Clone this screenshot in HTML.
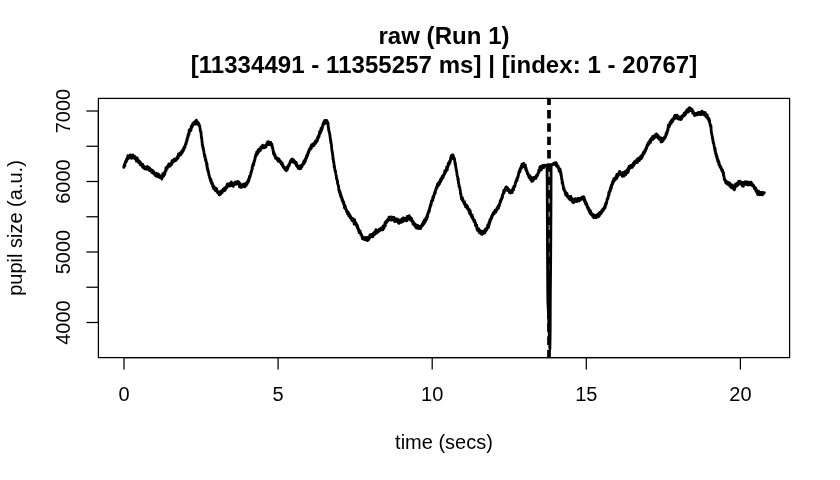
<!DOCTYPE html>
<html><head><meta charset="utf-8"><style>
html,body{margin:0;padding:0;background:#fff;}
svg{display:block;will-change:transform;}
.ax{font-family:"Liberation Sans",Arial,Helvetica,sans-serif;font-size:20px;fill:#000;}
.tt{font-family:"Liberation Sans",Arial,Helvetica,sans-serif;font-size:24px;font-weight:bold;fill:#000;letter-spacing:0.05px;}
</style></head><body>
<svg width="840" height="480" viewBox="0 0 840 480">
<defs><clipPath id="c"><rect x="98.4" y="98.4" width="691.2" height="259.20000000000005"/></clipPath></defs>
<rect width="840" height="480" fill="#fff"/>
<polyline points="123.80,167.43 123.92,166.01 124.04,166.42 124.16,165.88 124.28,165.58 124.40,165.28 124.52,164.24 124.64,164.58 124.76,163.92 124.87,165.96 124.99,163.90 125.10,163.23 125.21,162.97 125.32,162.34 125.42,161.74 125.52,161.97 125.62,162.36 125.72,161.48 125.83,162.13 125.93,160.91 126.05,160.81 126.17,161.76 126.30,160.72 126.40,159.71 126.51,159.79 126.61,160.20 126.72,161.15 126.83,159.22 126.94,159.08 127.06,159.91 127.18,158.22 127.31,158.51 127.45,159.25 127.60,158.80 127.70,158.28 127.80,158.60 127.90,155.66 128.01,158.61 128.12,156.89 128.24,156.19 128.36,157.63 128.48,157.86 128.60,156.85 128.72,156.26 128.84,157.07 128.96,156.95 129.09,158.06 129.21,157.49 129.34,157.01 129.46,157.71 129.58,156.63 129.70,156.03 129.81,157.23 129.92,157.23 130.04,156.60 130.15,156.17 130.26,157.02 130.38,154.89 130.49,157.49 130.61,157.40 130.72,155.76 130.83,157.19 130.95,156.43 131.06,157.86 131.18,155.67 131.29,156.59 131.41,157.89 131.52,158.22 131.64,155.53 131.75,156.80 131.86,157.37 131.98,156.53 132.09,158.17 132.21,155.83 132.32,156.94 132.44,155.70 132.55,157.55 132.67,156.31 132.78,155.95 132.90,154.81 133.01,157.50 133.13,156.76 133.24,156.79 133.36,157.14 133.47,156.59 133.58,155.90 133.69,155.88 133.80,156.01 133.92,157.89 134.04,155.78 134.16,156.63 134.28,157.00 134.40,157.57 134.52,157.98 134.63,156.64 134.75,156.36 134.87,157.85 134.98,158.92 135.10,158.65 135.21,158.30 135.33,157.97 135.44,158.56 135.55,158.22 135.67,159.17 135.78,157.98 135.90,158.83 136.02,158.73 136.14,159.36 136.26,159.20 136.38,161.15 136.50,160.39 136.62,160.47 136.73,157.71 136.85,159.13 136.97,158.98 137.09,159.96 137.21,157.78 137.33,160.62 137.44,160.62 137.56,158.83 137.67,159.20 137.78,159.47 137.89,160.28 138.00,160.90 138.12,162.19 138.24,160.55 138.36,161.48 138.48,161.14 138.60,162.56 138.71,161.88 138.83,162.49 138.94,160.64 139.05,161.45 139.16,161.04 139.27,162.99 139.38,162.40 139.49,161.72 139.59,161.70 139.70,162.56 139.82,161.75 139.94,161.72 140.06,163.01 140.17,164.78 140.28,162.80 140.39,162.74 140.50,162.45 140.61,162.51 140.72,164.19 140.83,164.64 140.94,164.15 141.06,164.58 141.18,164.57 141.30,164.74 141.41,163.53 141.51,164.50 141.62,165.07 141.73,164.48 141.84,164.84 141.95,164.68 142.06,165.18 142.18,166.25 142.29,165.35 142.41,165.66 142.53,166.54 142.64,166.50 142.76,167.44 142.88,164.49 143.00,166.93 143.11,165.93 143.22,166.48 143.33,167.11 143.44,167.36 143.55,167.39 143.66,166.75 143.77,167.97 143.88,166.53 144.00,166.71 144.11,167.53 144.23,166.52 144.34,168.76 144.46,167.92 144.58,168.91 144.70,167.21 144.81,166.99 144.92,167.49 145.03,168.00 145.14,167.00 145.25,167.84 145.37,167.59 145.48,168.97 145.60,167.22 145.71,168.66 145.83,167.37 145.94,167.18 146.06,167.43 146.17,167.08 146.29,168.17 146.41,168.89 146.52,168.19 146.64,168.55 146.75,169.34 146.86,168.23 146.98,168.15 147.09,167.75 147.21,166.67 147.32,168.57 147.44,166.57 147.55,168.52 147.67,168.03 147.78,169.00 147.90,168.11 148.01,167.58 148.13,168.62 148.24,167.98 148.35,168.38 148.47,168.66 148.58,168.62 148.69,168.67 148.80,168.26 148.92,168.88 149.04,167.43 149.16,169.12 149.28,168.40 149.40,170.36 149.51,170.59 149.63,168.12 149.75,169.91 149.86,169.79 149.98,169.16 150.10,170.52 150.21,169.81 150.33,168.85 150.44,170.13 150.56,170.30 150.67,170.57 150.79,169.56 150.90,171.08 151.02,171.22 151.13,169.75 151.24,170.17 151.36,170.66 151.47,170.29 151.58,172.16 151.70,170.96 151.81,170.00 151.92,170.21 152.04,170.82 152.15,172.74 152.27,170.80 152.38,171.10 152.50,171.48 152.61,171.12 152.73,173.06 152.85,170.92 152.96,172.06 153.08,171.72 153.20,172.23 153.31,170.95 153.43,173.47 153.55,172.14 153.67,172.44 153.79,171.85 153.91,172.21 154.03,173.43 154.15,173.94 154.27,173.93 154.39,174.45 154.51,174.20 154.63,173.78 154.76,174.54 154.88,174.45 155.00,173.98 155.12,174.72 155.23,175.24 155.35,174.46 155.47,174.05 155.58,174.97 155.70,175.97 155.82,174.33 155.94,174.47 156.06,174.48 156.18,175.61 156.29,173.20 156.41,175.00 156.53,175.70 156.65,174.14 156.77,176.03 156.89,175.32 157.01,174.52 157.14,175.19 157.26,173.86 157.38,174.71 157.50,176.69 157.61,174.57 157.73,176.82 157.84,175.34 157.96,176.26 158.07,175.55 158.19,173.78 158.31,175.16 158.42,175.82 158.54,174.79 158.66,174.69 158.78,176.11 158.89,175.35 159.01,174.58 159.13,175.46 159.25,176.77 159.36,175.79 159.48,177.01 159.60,177.57 159.72,176.48 159.83,175.65 159.95,175.61 160.07,176.73 160.18,177.54 160.30,177.13 160.42,177.42 160.54,176.68 160.67,177.31 160.79,176.72 160.91,176.86 161.04,176.08 161.16,175.85 161.29,176.70 161.41,176.17 161.54,176.24 161.66,177.50 161.78,176.81 161.90,179.16 162.02,177.49 162.14,176.16 162.26,177.19 162.37,176.75 162.48,175.80 162.59,177.12 162.70,175.49 162.80,173.54 162.94,176.45 163.08,175.13 163.22,176.62 163.35,174.72 163.47,174.10 163.60,176.10 163.72,173.82 163.83,174.66 163.95,175.47 164.06,174.22 164.17,173.87 164.28,173.82 164.38,174.21 164.49,172.68 164.59,173.60 164.70,173.36 164.80,174.54 164.92,172.13 165.04,171.38 165.15,172.41 165.26,171.22 165.36,171.48 165.46,171.08 165.56,171.64 165.67,169.91 165.77,170.10 165.88,167.87 166.00,168.95 166.12,170.65 166.25,168.62 166.35,168.42 166.45,167.82 166.55,169.06 166.66,168.54 166.76,167.24 166.87,168.51 166.98,167.96 167.09,168.13 167.21,166.78 167.32,168.46 167.44,167.18 167.56,166.55 167.68,166.03 167.80,166.07 167.92,166.79 168.05,165.75 168.17,166.71 168.30,166.21 168.41,166.75 168.52,166.27 168.63,165.53 168.75,164.02 168.86,165.76 168.98,166.13 169.10,165.60 169.22,165.89 169.34,165.04 169.46,165.07 169.58,164.56 169.70,166.33 169.83,165.28 169.95,164.64 170.07,163.85 170.19,164.65 170.32,165.78 170.44,164.85 170.56,163.74 170.68,165.31 170.80,165.16 170.92,164.65 171.04,164.35 171.16,164.49 171.27,163.85 171.39,163.88 171.51,162.47 171.62,164.12 171.74,162.94 171.86,164.19 171.98,160.76 172.09,162.78 172.21,162.82 172.33,161.60 172.45,162.07 172.57,162.16 172.69,161.88 172.81,160.85 172.93,161.05 173.05,161.87 173.18,161.97 173.30,160.93 173.42,160.83 173.53,160.85 173.65,161.45 173.77,159.72 173.89,159.45 174.01,160.57 174.13,159.55 174.25,159.94 174.38,160.47 174.50,160.78 174.62,159.54 174.74,161.04 174.86,158.99 174.99,160.85 175.11,159.14 175.22,159.37 175.34,160.87 175.46,159.98 175.57,159.60 175.69,159.79 175.80,160.41 175.93,159.84 176.05,159.68 176.18,160.35 176.30,158.73 176.42,158.71 176.54,158.44 176.65,159.57 176.77,159.21 176.88,159.23 177.00,157.96 177.11,157.65 177.22,158.26 177.34,157.06 177.45,157.85 177.56,157.58 177.68,156.27 177.79,156.59 177.91,156.39 178.02,157.72 178.14,158.25 178.26,155.96 178.38,155.91 178.50,153.94 178.62,155.82 178.73,155.53 178.85,154.56 178.97,155.92 179.10,153.91 179.22,154.85 179.34,154.99 179.47,153.73 179.59,155.26 179.71,155.27 179.84,153.17 179.96,153.01 180.08,154.48 180.21,153.85 180.33,152.79 180.44,153.41 180.56,153.46 180.67,153.32 180.79,154.00 180.89,153.54 181.00,154.53 181.13,154.07 181.25,153.37 181.37,153.53 181.49,153.56 181.60,152.89 181.72,151.15 181.83,152.63 181.93,151.80 182.04,152.83 182.15,151.40 182.26,151.53 182.37,151.16 182.48,152.02 182.59,150.61 182.70,150.05 182.82,150.31 182.93,149.52 183.05,149.82 183.17,149.51 183.29,149.57 183.41,150.73 183.53,148.71 183.65,148.89 183.77,148.53 183.89,149.05 184.00,147.37 184.12,147.56 184.24,147.87 184.35,148.11 184.47,147.41 184.58,146.80 184.69,146.27 184.79,147.13 184.90,147.63 185.00,146.48 185.14,146.03 185.27,145.87 185.40,144.40 185.53,144.54 185.65,144.20 185.77,144.27 185.88,143.62 185.99,142.28 186.11,143.76 186.22,143.82 186.33,141.85 186.44,141.98 186.55,141.47 186.67,141.49 186.78,139.28 186.90,141.35 187.01,139.31 187.13,140.32 187.24,139.00 187.35,138.24 187.46,138.06 187.57,138.50 187.68,136.71 187.79,136.70 187.91,136.22 188.02,134.83 188.14,136.84 188.25,135.86 188.37,134.97 188.50,135.51 188.62,133.41 188.75,133.71 188.86,134.81 188.97,133.89 189.08,130.99 189.19,129.78 189.30,131.30 189.41,132.67 189.53,131.14 189.64,131.05 189.76,131.43 189.88,129.97 190.00,130.58 190.12,130.79 190.24,130.28 190.36,129.97 190.49,128.92 190.61,129.57 190.74,128.56 190.87,129.68 190.99,130.43 191.12,127.51 191.25,126.09 191.36,127.25 191.47,127.64 191.58,127.93 191.69,127.70 191.80,125.96 191.91,125.69 192.03,127.08 192.14,124.93 192.25,126.42 192.36,125.10 192.48,125.64 192.60,125.33 192.72,125.14 192.84,124.94 192.96,123.27 193.08,124.10 193.21,123.70 193.34,123.79 193.47,124.41 193.61,123.12 193.75,122.71 193.86,122.66 193.97,122.97 194.08,123.79 194.20,122.51 194.32,124.05 194.44,123.31 194.56,122.84 194.69,121.90 194.81,123.08 194.94,123.36 195.07,121.31 195.19,123.58 195.32,123.86 195.45,122.73 195.57,122.77 195.70,124.23 195.82,123.21 195.94,121.45 196.06,122.09 196.17,121.93 196.28,121.90 196.39,120.09 196.50,122.57 196.60,121.45 196.73,122.10 196.86,121.89 196.99,122.75 197.11,121.90 197.23,121.60 197.35,122.77 197.46,123.59 197.57,122.35 197.68,123.84 197.79,123.10 197.89,122.61 197.99,124.40 198.10,122.67 198.20,124.29 198.30,123.22 198.43,124.18 198.56,123.05 198.69,123.61 198.82,125.39 198.94,124.96 199.06,125.14 199.17,125.06 199.28,126.09 199.39,124.94 199.50,125.50 199.61,126.61 199.71,126.41 199.81,126.86 199.91,127.71 200.00,128.00 200.15,128.52 200.28,130.63 200.41,130.72 200.52,131.53 200.63,131.18 200.74,131.47 200.84,131.39 200.94,132.97 201.04,132.28 201.14,134.19 201.25,135.98 201.37,137.47 201.48,137.76 201.60,137.12 201.71,139.02 201.82,138.82 201.92,140.92 202.03,140.99 202.15,142.56 202.26,144.73 202.38,144.18 202.50,146.07 202.61,144.99 202.71,145.21 202.82,147.17 202.92,148.11 203.03,146.91 203.14,148.05 203.26,147.47 203.37,149.10 203.49,150.62 203.61,150.50 203.74,150.79 203.87,150.80 204.00,152.92 204.10,153.79 204.21,154.17 204.32,154.44 204.44,153.77 204.55,156.75 204.67,155.85 204.79,156.32 204.92,157.57 205.04,155.78 205.16,157.97 205.29,158.41 205.41,159.30 205.54,160.55 205.66,160.32 205.78,158.94 205.90,160.59 206.02,161.50 206.14,161.93 206.25,161.27 206.37,161.51 206.49,163.83 206.60,164.22 206.71,164.50 206.83,163.70 206.93,167.06 207.04,163.89 207.15,166.47 207.26,168.99 207.37,167.74 207.48,168.59 207.60,168.00 207.72,170.57 207.84,168.98 207.97,170.76 208.10,171.21 208.20,170.69 208.31,172.69 208.42,171.29 208.52,172.34 208.63,173.33 208.74,173.50 208.85,174.68 208.96,175.52 209.08,175.02 209.19,175.29 209.31,175.76 209.43,176.33 209.55,177.69 209.67,177.28 209.80,178.17 209.93,178.15 210.06,177.91 210.19,179.62 210.32,178.44 210.46,179.62 210.60,181.14 210.70,179.33 210.81,180.41 210.92,179.45 211.02,180.59 211.13,180.08 211.25,181.28 211.36,181.43 211.48,182.27 211.59,183.74 211.71,183.00 211.83,183.61 211.95,183.35 212.07,183.49 212.19,183.32 212.31,182.83 212.43,184.61 212.55,186.14 212.67,185.49 212.79,184.94 212.92,186.95 213.04,185.53 213.16,185.63 213.28,185.39 213.40,185.83 213.52,186.63 213.63,188.65 213.75,187.10 213.87,186.66 213.99,187.22 214.11,187.73 214.22,186.74 214.34,188.40 214.46,189.04 214.58,188.92 214.70,189.31 214.81,187.96 214.93,187.80 215.05,190.34 215.17,190.34 215.29,188.38 215.40,189.92 215.52,189.92 215.64,190.47 215.76,190.32 215.88,189.88 216.00,190.55 216.11,190.61 216.22,190.54 216.33,189.18 216.44,188.35 216.56,190.19 216.67,189.59 216.78,191.18 216.89,191.63 217.00,191.35 217.11,190.93 217.23,191.38 217.34,192.35 217.45,190.95 217.57,192.38 217.68,192.33 217.80,192.09 217.91,193.17 218.02,191.56 218.14,193.02 218.25,191.65 218.36,191.91 218.48,191.80 218.59,193.12 218.71,192.12 218.82,193.02 218.94,192.15 219.05,193.99 219.17,194.66 219.28,193.41 219.40,194.57 219.51,193.70 219.63,194.98 219.74,193.30 219.85,191.93 219.97,194.34 220.08,193.00 220.20,192.23 220.31,192.48 220.43,191.66 220.54,192.78 220.66,192.02 220.77,194.02 220.89,193.32 221.00,191.41 221.12,191.47 221.24,192.16 221.36,190.98 221.48,192.34 221.59,192.27 221.71,191.55 221.83,191.58 221.95,192.26 222.07,192.83 222.19,192.71 222.30,191.36 222.42,191.84 222.54,190.39 222.65,191.15 222.77,189.90 222.88,191.11 223.00,189.42 223.12,189.52 223.24,190.19 223.36,190.55 223.47,188.87 223.59,189.52 223.70,189.99 223.82,190.01 223.93,189.11 224.04,189.81 224.16,189.48 224.28,190.79 224.39,190.08 224.51,188.55 224.63,187.82 224.75,189.62 224.87,190.45 225.00,189.59 225.11,190.09 225.22,188.91 225.33,188.10 225.45,189.67 225.56,188.99 225.67,189.28 225.79,187.43 225.90,188.46 226.02,187.57 226.14,188.46 226.25,187.09 226.37,186.79 226.49,186.54 226.61,187.75 226.74,186.50 226.86,185.62 226.99,185.19 227.11,184.96 227.24,186.79 227.37,184.01 227.50,184.66 227.61,185.77 227.72,186.14 227.83,185.03 227.94,185.74 228.06,185.69 228.17,185.86 228.29,185.09 228.41,186.37 228.52,185.21 228.64,186.25 228.76,184.12 228.88,185.72 229.00,183.92 229.12,183.67 229.24,185.20 229.37,184.07 229.49,185.01 229.61,183.71 229.73,185.78 229.86,184.42 229.98,183.44 230.10,184.43 230.23,184.94 230.35,183.59 230.48,184.59 230.60,185.80 230.71,184.86 230.83,184.16 230.94,183.73 231.06,184.66 231.17,183.01 231.29,181.81 231.40,183.73 231.52,183.42 231.64,185.70 231.75,184.43 231.87,183.55 231.99,183.42 232.10,184.76 232.22,183.70 232.34,183.91 232.46,184.30 232.58,184.44 232.69,184.45 232.81,184.46 232.93,185.41 233.05,185.72 233.17,183.03 233.28,186.41 233.40,184.44 233.52,185.31 233.63,183.70 233.75,184.52 233.87,184.38 233.99,184.24 234.11,184.75 234.23,184.48 234.36,183.07 234.48,183.66 234.61,184.22 234.73,184.06 234.86,183.13 234.99,183.07 235.11,183.07 235.24,182.24 235.36,182.03 235.48,184.26 235.61,182.65 235.73,183.01 235.85,182.32 235.96,183.94 236.08,184.28 236.19,182.69 236.30,183.26 236.41,182.22 236.52,184.22 236.62,183.52 236.72,182.08 236.81,183.72 236.90,182.98 237.04,182.96 237.18,182.84 237.30,181.93 237.42,181.95 237.53,182.80 237.64,182.19 237.75,181.42 237.86,183.77 237.98,181.98 238.10,181.72 238.21,181.67 238.32,182.88 238.43,183.23 238.54,182.80 238.65,183.48 238.76,181.79 238.87,182.92 238.98,183.07 239.10,183.70 239.21,184.34 239.33,182.58 239.44,186.97 239.56,184.03 239.68,185.26 239.81,185.89 239.93,186.14 240.06,185.87 240.19,183.55 240.32,185.18 240.46,186.81 240.60,185.58 240.71,185.54 240.82,184.56 240.93,187.47 241.04,186.93 241.16,185.83 241.27,186.44 241.39,186.45 241.51,185.60 241.63,186.23 241.75,186.58 241.88,186.74 242.00,187.22 242.12,186.13 242.24,185.62 242.37,186.21 242.49,185.28 242.61,184.69 242.74,186.52 242.86,185.23 242.98,185.58 243.10,185.98 243.22,184.56 243.33,185.96 243.45,185.82 243.57,185.42 243.69,185.85 243.81,184.98 243.93,183.88 244.05,185.47 244.17,185.02 244.29,186.49 244.41,186.05 244.53,185.43 244.65,185.90 244.77,186.94 244.89,186.74 245.00,186.08 245.12,186.06 245.24,185.42 245.35,185.44 245.46,185.90 245.57,185.22 245.68,185.42 245.79,184.15 245.90,183.56 246.00,183.39 246.14,184.19 246.28,185.39 246.41,185.06 246.55,183.10 246.68,182.45 246.81,184.12 246.94,183.66 247.07,182.00 247.19,183.76 247.31,182.87 247.43,183.61 247.55,182.64 247.67,182.89 247.78,182.25 247.89,181.04 248.00,181.42 248.11,180.87 248.21,181.87 248.32,180.21 248.41,179.58 248.51,181.15 248.61,181.32 248.70,181.35 248.85,180.72 249.00,178.27 249.13,178.56 249.25,178.30 249.36,178.35 249.47,176.26 249.58,177.60 249.68,177.45 249.78,176.09 249.88,176.56 249.98,177.05 250.09,175.76 250.20,176.21 250.32,175.81 250.43,174.97 250.55,174.59 250.66,173.61 250.78,174.53 250.89,172.78 251.01,172.21 251.12,172.92 251.24,171.36 251.35,171.85 251.47,171.92 251.58,170.69 251.70,170.26 251.82,170.46 251.93,169.87 252.05,167.59 252.16,167.34 252.28,169.03 252.39,167.86 252.51,165.48 252.62,165.67 252.74,166.38 252.85,165.20 252.97,165.98 253.08,165.30 253.20,165.25 253.32,163.55 253.43,164.60 253.55,165.28 253.66,162.68 253.78,163.97 253.89,163.29 254.01,162.61 254.12,161.63 254.24,160.34 254.35,160.15 254.47,161.05 254.58,160.82 254.70,160.61 254.81,159.99 254.92,159.55 255.03,158.08 255.13,157.07 255.24,157.81 255.34,157.66 255.45,156.95 255.56,155.29 255.68,155.72 255.80,154.60 255.92,155.55 256.06,154.26 256.20,154.66 256.30,154.86 256.39,154.52 256.49,155.32 256.60,153.15 256.70,152.10 256.81,154.42 256.92,154.59 257.03,154.42 257.14,153.30 257.26,153.30 257.37,152.75 257.49,151.41 257.61,151.77 257.73,152.42 257.86,151.36 257.98,153.14 258.11,150.19 258.24,150.89 258.37,151.95 258.50,150.40 258.61,149.85 258.72,149.53 258.84,149.91 258.96,151.57 259.08,150.55 259.20,150.51 259.32,149.55 259.45,150.51 259.57,149.78 259.70,148.82 259.83,149.06 259.95,149.44 260.08,150.08 260.20,148.96 260.32,149.27 260.44,150.36 260.56,147.97 260.67,147.49 260.79,149.15 260.90,148.60 261.00,148.06 261.13,148.20 261.25,147.57 261.36,148.09 261.47,147.25 261.57,148.01 261.67,146.28 261.78,146.41 261.88,147.03 261.99,146.43 262.11,147.26 262.23,146.57 262.36,146.10 262.50,146.65 262.60,146.03 262.70,145.20 262.81,145.53 262.93,145.80 263.05,146.08 263.17,146.54 263.29,147.21 263.42,146.94 263.54,147.94 263.67,147.57 263.80,146.43 263.93,147.94 264.06,147.61 264.19,146.35 264.31,147.02 264.43,147.69 264.56,147.05 264.67,147.70 264.79,147.22 264.90,147.47 265.00,146.64 265.14,147.15 265.27,146.47 265.40,147.19 265.52,145.17 265.63,146.64 265.74,147.20 265.85,146.49 265.96,145.82 266.06,146.08 266.17,144.78 266.28,144.59 266.39,144.78 266.51,144.76 266.63,145.47 266.76,143.81 266.90,145.16 267.00,142.98 267.11,143.48 267.22,143.95 267.34,144.77 267.45,143.22 267.57,141.87 267.69,143.79 267.81,143.32 267.94,142.37 268.06,142.30 268.19,142.48 268.31,143.03 268.44,143.40 268.56,141.62 268.68,144.56 268.81,142.63 268.93,142.31 269.05,143.11 269.17,142.63 269.29,144.40 269.40,143.42 269.53,142.29 269.65,142.34 269.78,142.34 269.91,142.58 270.04,143.53 270.17,142.62 270.29,144.58 270.42,143.39 270.55,143.50 270.67,144.54 270.79,142.36 270.91,143.35 271.03,144.73 271.15,144.42 271.27,144.55 271.38,145.04 271.49,144.41 271.60,144.92 271.70,144.14 271.80,143.91 271.90,146.60 272.07,145.21 272.22,145.78 272.36,147.90 272.48,148.09 272.59,147.29 272.69,147.77 272.79,148.63 272.89,148.44 272.98,150.15 273.07,150.34 273.16,150.83 273.26,151.83 273.37,152.29 273.48,153.66 273.61,153.85 273.75,151.69 273.85,154.04 273.95,152.69 274.05,152.70 274.16,154.66 274.27,153.77 274.37,154.31 274.48,155.64 274.59,154.48 274.71,154.51 274.82,155.70 274.94,156.63 275.06,156.29 275.18,154.83 275.30,155.77 275.43,156.39 275.56,158.28 275.69,157.67 275.83,157.87 275.97,158.38 276.11,157.40 276.25,158.26 276.35,158.41 276.46,157.38 276.57,158.27 276.68,158.85 276.79,157.63 276.90,159.23 277.02,159.26 277.14,159.54 277.26,158.14 277.38,158.89 277.50,160.01 277.63,159.52 277.75,158.29 277.87,159.15 278.00,160.16 278.12,159.03 278.25,159.48 278.37,161.33 278.49,159.36 278.61,159.43 278.73,158.85 278.85,159.28 278.96,161.15 279.08,160.01 279.19,159.34 279.29,159.70 279.40,160.60 279.53,161.40 279.67,160.37 279.79,161.70 279.92,160.89 280.04,161.72 280.16,162.00 280.28,162.21 280.40,161.53 280.52,161.90 280.63,162.60 280.75,161.32 280.86,162.67 280.98,163.11 281.09,163.72 281.20,163.04 281.32,163.10 281.43,163.55 281.55,163.03 281.66,163.63 281.78,164.30 281.90,164.38 282.02,163.49 282.13,164.25 282.25,163.00 282.36,165.53 282.47,164.66 282.59,165.49 282.70,164.63 282.81,165.66 282.92,166.30 283.04,166.95 283.15,165.30 283.26,167.28 283.38,166.68 283.50,166.40 283.62,167.59 283.74,167.14 283.87,167.30 284.00,167.12 284.13,167.99 284.26,167.95 284.40,167.88 284.51,167.32 284.62,167.73 284.74,168.53 284.86,169.29 284.98,168.30 285.10,169.50 285.22,168.41 285.35,167.59 285.48,169.01 285.60,167.78 285.73,168.92 285.86,169.50 285.98,168.44 286.11,168.66 286.23,170.75 286.35,169.02 286.47,169.07 286.58,169.52 286.69,168.84 286.80,168.86 286.90,169.23 287.05,166.98 287.20,169.95 287.33,167.86 287.46,167.71 287.58,168.83 287.69,168.22 287.80,166.97 287.91,167.90 288.02,166.55 288.12,166.63 288.22,165.70 288.32,165.95 288.43,166.63 288.53,166.11 288.64,165.97 288.76,166.17 288.88,165.12 289.00,164.37 289.11,164.45 289.22,165.75 289.33,164.22 289.44,164.19 289.55,163.60 289.66,163.61 289.78,163.49 289.89,162.88 290.01,162.50 290.13,161.75 290.24,161.45 290.36,162.22 290.48,162.27 290.60,162.21 290.72,161.33 290.85,160.47 290.97,161.48 291.09,161.35 291.22,159.56 291.34,161.32 291.47,161.09 291.60,161.92 291.71,159.68 291.83,159.55 291.94,161.21 292.06,159.16 292.18,160.02 292.29,159.76 292.41,159.84 292.53,159.15 292.65,160.51 292.77,161.51 292.89,161.12 293.01,161.17 293.13,160.58 293.26,162.08 293.38,161.41 293.50,161.91 293.63,159.92 293.75,161.52 293.88,160.43 294.00,161.71 294.11,161.67 294.22,160.71 294.34,161.85 294.45,162.73 294.56,162.31 294.68,162.50 294.79,161.45 294.90,161.72 295.02,161.49 295.13,162.61 295.25,163.59 295.37,163.13 295.48,162.92 295.60,162.18 295.71,163.58 295.83,163.20 295.95,162.04 296.07,162.36 296.19,163.64 296.30,163.38 296.42,165.58 296.54,164.47 296.66,163.80 296.78,164.41 296.90,166.24 297.02,164.37 297.13,165.91 297.25,165.81 297.37,166.79 297.49,166.21 297.61,165.63 297.72,166.52 297.84,166.31 297.96,167.19 298.08,166.51 298.21,168.28 298.33,166.76 298.45,167.33 298.57,166.59 298.69,167.34 298.81,167.39 298.93,167.62 299.05,168.31 299.17,167.27 299.29,167.11 299.41,168.74 299.53,167.68 299.65,167.41 299.77,168.87 299.88,168.56 300.00,165.80 300.12,167.54 300.25,168.38 300.37,168.31 300.49,167.11 300.62,168.62 300.74,166.58 300.87,166.86 301.00,166.96 301.12,166.67 301.25,167.13 301.37,167.11 301.49,166.07 301.62,167.04 301.74,165.19 301.86,165.39 301.98,166.75 302.10,165.27 302.22,165.87 302.33,164.50 302.45,164.45 302.56,164.39 302.67,164.44 302.78,163.85 302.89,163.97 303.00,164.32 303.10,164.59 303.25,163.50 303.39,163.71 303.53,163.73 303.66,161.96 303.79,161.39 303.91,163.76 304.03,163.36 304.15,162.20 304.27,162.28 304.38,161.08 304.49,160.56 304.60,161.73 304.71,160.09 304.82,161.79 304.93,160.30 305.04,160.83 305.15,161.89 305.26,161.59 305.37,159.60 305.48,160.40 305.60,158.45 305.72,158.52 305.84,158.99 305.96,159.51 306.08,157.65 306.20,158.25 306.32,157.61 306.43,156.23 306.55,156.83 306.67,157.83 306.78,156.26 306.90,156.43 307.02,156.37 307.13,154.81 307.25,156.06 307.37,155.95 307.49,155.71 307.61,155.17 307.73,153.45 307.85,153.05 307.98,152.61 308.10,152.23 308.21,152.08 308.33,153.27 308.44,153.42 308.55,151.51 308.66,152.45 308.77,150.57 308.88,151.10 309.00,150.34 309.11,149.60 309.22,150.71 309.34,150.50 309.45,149.88 309.57,149.55 309.69,148.94 309.81,149.38 309.94,148.77 310.06,149.20 310.19,147.81 310.33,148.73 310.46,148.73 310.60,149.09 310.70,148.77 310.81,147.93 310.91,147.07 311.02,146.00 311.13,147.29 311.24,148.27 311.36,148.31 311.47,144.80 311.59,146.07 311.70,146.23 311.82,145.53 311.94,146.36 312.06,146.10 312.18,145.52 312.30,145.78 312.42,144.42 312.54,144.80 312.66,144.76 312.78,146.08 312.90,143.96 313.02,144.97 313.15,145.63 313.27,144.82 313.39,145.35 313.51,144.00 313.63,144.66 313.75,144.82 313.87,145.67 313.98,144.24 314.10,144.57 314.22,143.21 314.34,143.06 314.47,144.03 314.59,143.06 314.72,143.57 314.84,142.87 314.97,143.89 315.09,144.02 315.22,141.38 315.34,143.49 315.47,142.31 315.59,142.32 315.71,141.81 315.83,142.43 315.95,140.91 316.07,141.15 316.18,141.03 316.29,141.77 316.40,142.17 316.51,141.89 316.61,141.47 316.71,140.56 316.81,139.48 316.90,141.06 317.07,140.56 317.22,140.42 317.36,140.97 317.48,139.37 317.60,139.03 317.71,137.00 317.81,138.97 317.91,138.14 318.00,137.23 318.10,137.78 318.19,136.28 318.29,136.32 318.39,137.96 318.50,136.63 318.62,136.41 318.75,135.91 318.86,135.55 318.96,134.92 319.07,136.32 319.19,134.17 319.30,134.55 319.42,133.54 319.54,133.18 319.66,131.28 319.78,131.46 319.90,134.01 320.02,133.73 320.15,131.96 320.27,132.05 320.39,132.32 320.52,130.78 320.64,132.72 320.77,130.19 320.89,130.16 321.01,128.22 321.13,131.34 321.25,129.86 321.37,130.78 321.48,128.35 321.60,129.09 321.71,128.53 321.82,128.29 321.94,129.44 322.05,129.24 322.16,128.18 322.27,126.40 322.38,127.09 322.49,127.10 322.61,126.13 322.72,125.80 322.84,125.40 322.96,123.98 323.08,124.61 323.21,125.42 323.34,123.09 323.47,123.73 323.61,124.14 323.75,122.22 323.86,123.09 323.97,121.75 324.08,122.53 324.20,121.80 324.32,122.12 324.44,122.35 324.57,122.41 324.69,122.35 324.82,120.46 324.95,123.51 325.07,121.86 325.20,121.05 325.32,121.26 325.45,121.86 325.57,120.67 325.69,121.01 325.81,120.87 325.93,121.59 326.04,120.50 326.15,121.43 326.25,121.34 326.38,120.95 326.52,122.11 326.65,121.20 326.78,120.32 326.90,121.59 327.03,121.55 327.15,121.53 327.26,121.86 327.37,123.68 327.48,122.12 327.58,122.43 327.67,122.01 327.75,123.41 327.96,122.99 328.06,123.21 328.10,123.79 328.14,126.17 328.25,127.38 328.33,126.07 328.43,127.34 328.54,129.05 328.65,130.01 328.77,128.80 328.89,130.21 329.02,131.89 329.15,131.48 329.29,132.20 329.42,132.77 329.55,132.77 329.67,134.45 329.79,135.24 329.90,134.45 330.03,136.35 330.15,137.87 330.27,137.87 330.39,139.21 330.51,138.78 330.62,141.11 330.74,140.19 330.85,143.14 330.96,142.10 331.07,142.71 331.18,143.41 331.29,144.62 331.40,145.38 331.52,146.10 331.64,147.27 331.75,148.94 331.86,149.98 331.98,149.88 332.09,152.00 332.20,151.09 332.31,151.94 332.43,152.74 332.55,155.02 332.67,154.20 332.80,155.24 332.90,158.13 333.01,159.22 333.11,159.68 333.22,158.17 333.33,160.14 333.44,161.56 333.55,161.74 333.66,161.13 333.78,162.92 333.89,162.59 334.01,163.72 334.13,167.18 334.25,166.75 334.37,165.77 334.50,166.47 334.61,168.64 334.72,168.38 334.83,169.91 334.94,169.50 335.05,170.42 335.17,171.32 335.29,170.84 335.41,170.65 335.53,171.75 335.64,172.66 335.77,173.57 335.89,174.20 336.01,174.71 336.13,175.70 336.25,175.10 336.36,177.46 336.48,178.49 336.60,177.72 336.72,178.13 336.83,179.53 336.94,179.62 337.05,179.81 337.16,180.10 337.26,180.22 337.37,180.45 337.48,182.51 337.59,183.52 337.70,182.32 337.81,183.72 337.93,184.56 338.05,184.66 338.17,185.02 338.29,185.94 338.42,185.30 338.56,187.45 338.70,187.89 338.80,190.26 338.91,189.75 339.01,189.16 339.12,189.86 339.23,191.67 339.34,192.01 339.46,191.30 339.57,191.48 339.69,190.85 339.81,192.16 339.93,192.70 340.05,192.65 340.17,195.02 340.29,192.51 340.41,194.27 340.54,195.06 340.66,195.42 340.79,196.75 340.92,194.60 341.04,195.44 341.17,196.43 341.30,196.78 341.42,196.69 341.55,196.73 341.67,198.54 341.80,197.20 341.91,197.91 342.03,199.85 342.14,200.43 342.26,200.08 342.37,199.03 342.49,199.38 342.60,199.68 342.72,199.83 342.84,200.73 342.95,202.41 343.07,201.91 343.19,201.46 343.30,201.77 343.42,201.79 343.54,204.03 343.66,201.79 343.78,203.97 343.90,202.94 344.03,203.59 344.15,203.59 344.27,205.90 344.40,205.40 344.52,207.99 344.65,205.29 344.77,205.56 344.90,207.22 345.01,207.47 345.13,207.06 345.25,205.93 345.37,208.96 345.49,208.53 345.61,208.67 345.73,208.15 345.85,209.42 345.98,208.75 346.10,209.52 346.23,209.63 346.35,211.08 346.48,209.98 346.60,210.36 346.73,211.79 346.85,211.33 346.97,211.37 347.09,211.41 347.21,212.57 347.33,211.49 347.45,212.57 347.56,213.99 347.68,212.86 347.79,212.08 347.89,211.91 348.00,213.16 348.13,212.27 348.25,212.20 348.37,213.09 348.48,213.04 348.59,214.84 348.69,213.20 348.80,215.85 348.90,214.20 349.00,215.11 349.11,215.77 349.22,215.62 349.33,216.23 349.45,215.07 349.58,214.26 349.71,216.13 349.85,215.16 350.00,216.27 350.10,217.63 350.20,216.86 350.31,216.69 350.41,216.41 350.52,217.23 350.64,217.47 350.75,216.50 350.87,218.15 350.99,217.21 351.11,218.39 351.23,218.01 351.36,219.31 351.48,219.35 351.61,218.81 351.74,218.85 351.86,219.43 351.99,220.31 352.12,220.19 352.24,219.58 352.37,219.83 352.49,220.95 352.62,218.48 352.74,220.33 352.86,219.27 352.98,221.17 353.10,219.78 353.22,220.19 353.34,219.50 353.46,220.48 353.58,221.20 353.71,222.00 353.83,219.77 353.95,220.55 354.08,224.18 354.20,221.96 354.33,221.37 354.45,221.98 354.57,219.63 354.70,223.26 354.82,222.30 354.94,221.24 355.06,223.53 355.18,222.29 355.29,222.17 355.41,223.60 355.52,223.67 355.63,223.14 355.74,223.60 355.85,222.73 355.95,222.78 356.05,224.78 356.15,225.23 356.25,224.64 356.40,224.78 356.54,224.35 356.67,224.76 356.79,224.32 356.91,226.69 357.02,225.06 357.13,226.10 357.24,226.03 357.34,225.18 357.45,228.14 357.55,226.59 357.65,226.58 357.75,227.61 357.85,227.13 357.96,228.20 358.07,227.75 358.18,229.31 358.30,229.25 358.41,228.42 358.52,230.64 358.63,230.26 358.74,229.50 358.86,230.94 358.97,231.24 359.08,232.62 359.20,230.65 359.31,232.23 359.43,231.64 359.54,232.38 359.66,231.82 359.78,232.13 359.90,232.71 360.02,231.49 360.15,230.90 360.27,232.72 360.40,232.52 360.51,233.09 360.62,233.70 360.72,233.19 360.83,234.52 360.94,233.74 361.05,234.09 361.16,234.90 361.27,234.95 361.38,234.67 361.50,235.10 361.61,234.66 361.73,235.05 361.85,235.89 361.96,236.73 362.09,235.99 362.21,237.26 362.33,238.39 362.46,238.79 362.59,237.31 362.73,238.33 362.86,238.15 363.00,238.45 363.11,238.60 363.22,238.44 363.33,238.76 363.44,238.32 363.55,238.02 363.67,238.48 363.78,238.71 363.90,239.32 364.02,238.66 364.14,238.98 364.26,239.54 364.38,237.65 364.50,238.19 364.62,238.84 364.75,238.43 364.87,237.59 364.99,239.20 365.11,238.35 365.24,237.62 365.36,239.95 365.48,237.43 365.60,238.48 365.72,238.00 365.83,238.69 365.95,239.13 366.07,238.12 366.19,238.79 366.31,238.88 366.43,238.29 366.55,240.15 366.68,239.46 366.80,239.18 366.92,238.96 367.04,239.28 367.16,239.69 367.28,239.22 367.40,240.58 367.52,237.51 367.63,237.78 367.75,239.23 367.86,237.88 367.98,239.22 368.09,238.66 368.20,239.56 368.33,239.32 368.46,239.93 368.58,239.51 368.70,239.66 368.82,238.97 368.94,239.29 369.06,238.72 369.17,237.72 369.29,237.07 369.40,236.96 369.52,238.17 369.63,235.72 369.74,237.62 369.86,236.71 369.97,237.73 370.08,237.13 370.20,236.20 370.32,236.64 370.43,234.65 370.55,236.53 370.68,236.54 370.80,234.56 370.91,236.61 371.02,235.72 371.14,235.86 371.25,234.49 371.37,236.03 371.48,235.92 371.59,235.37 371.71,234.51 371.83,235.84 371.94,236.15 372.06,235.40 372.18,235.81 372.30,234.46 372.41,234.97 372.53,235.06 372.65,234.78 372.77,236.83 372.89,234.81 373.02,233.93 373.14,234.94 373.26,233.31 373.38,234.38 373.50,234.61 373.63,233.51 373.75,233.55 373.88,232.97 374.00,233.73 374.11,232.99 374.23,234.82 374.35,233.85 374.46,233.04 374.58,231.97 374.70,234.61 374.82,233.89 374.93,233.09 375.05,232.73 375.17,232.58 375.29,231.93 375.41,233.67 375.53,232.21 375.66,230.77 375.78,231.29 375.90,229.66 376.02,232.18 376.14,232.21 376.26,232.97 376.38,233.20 376.50,230.87 376.62,231.85 376.74,232.29 376.86,232.12 376.98,231.08 377.10,232.13 377.22,231.87 377.34,232.54 377.46,231.39 377.58,231.18 377.70,230.91 377.82,230.94 377.94,230.55 378.07,230.79 378.19,231.36 378.31,231.22 378.43,231.81 378.55,231.52 378.67,231.05 378.79,229.54 378.91,230.84 379.03,231.24 379.15,229.20 379.27,229.30 379.39,229.37 379.51,229.26 379.62,229.81 379.74,229.24 379.86,230.24 379.97,228.90 380.09,229.71 380.20,229.35 380.33,228.90 380.45,230.44 380.58,229.56 380.71,229.91 380.83,229.16 380.96,229.94 381.08,229.82 381.21,229.16 381.33,227.82 381.45,229.85 381.58,229.69 381.70,229.23 381.82,229.21 381.94,229.05 382.06,229.02 382.18,227.98 382.30,228.65 382.41,228.86 382.53,228.02 382.64,227.63 382.75,229.80 382.87,228.70 382.98,227.87 383.09,227.62 383.19,225.80 383.30,226.66 383.44,227.45 383.57,228.50 383.69,225.62 383.82,226.49 383.94,228.34 384.05,227.09 384.17,226.61 384.28,226.95 384.39,225.61 384.50,225.26 384.61,225.68 384.72,225.49 384.83,223.66 384.94,225.44 385.05,222.54 385.16,223.11 385.28,225.86 385.40,222.74 385.52,223.44 385.64,221.88 385.77,222.21 385.90,221.69 386.01,221.79 386.12,222.47 386.23,223.19 386.34,222.33 386.45,222.72 386.57,220.92 386.68,222.35 386.80,221.48 386.91,221.99 387.03,220.43 387.15,220.46 387.27,221.63 387.39,220.92 387.51,220.42 387.63,219.70 387.75,220.08 387.87,220.46 388.00,220.56 388.12,219.44 388.25,219.51 388.37,220.02 388.50,218.68 388.61,220.21 388.73,219.36 388.84,219.16 388.95,217.25 389.07,217.82 389.19,218.20 389.30,218.50 389.42,218.04 389.54,219.17 389.66,218.95 389.78,218.60 389.90,217.16 390.02,219.89 390.14,218.53 390.26,219.20 390.38,218.18 390.50,218.69 390.62,219.23 390.74,218.85 390.86,219.41 390.98,218.48 391.10,220.21 391.21,217.09 391.33,218.15 391.44,219.36 391.56,218.37 391.67,218.21 391.79,217.13 391.90,219.51 392.02,217.03 392.13,218.96 392.25,218.72 392.37,219.29 392.48,219.78 392.60,218.09 392.71,218.04 392.83,218.49 392.94,217.43 393.06,219.52 393.18,218.61 393.29,219.13 393.41,218.17 393.52,219.15 393.64,218.71 393.75,219.22 393.87,218.47 393.98,220.23 394.10,218.95 394.21,217.48 394.33,220.09 394.45,219.38 394.56,218.96 394.68,221.71 394.79,219.69 394.91,218.68 395.03,219.28 395.14,220.08 395.26,219.60 395.37,220.78 395.49,220.64 395.60,219.16 395.72,219.82 395.83,220.32 395.94,219.49 396.06,219.47 396.17,220.58 396.29,220.27 396.40,218.84 396.52,219.60 396.64,219.79 396.76,220.13 396.88,219.76 397.00,221.53 397.11,219.81 397.23,219.85 397.35,221.02 397.47,219.18 397.58,220.28 397.70,221.72 397.82,220.26 397.94,220.73 398.05,222.34 398.17,221.88 398.29,221.58 398.41,221.74 398.52,220.99 398.64,221.76 398.76,221.32 398.88,223.44 399.00,221.82 399.12,221.08 399.23,221.27 399.35,221.32 399.47,220.14 399.59,220.57 399.71,222.43 399.82,220.08 399.94,220.73 400.06,222.01 400.18,222.39 400.30,220.35 400.42,222.33 400.54,220.84 400.65,222.42 400.77,221.46 400.89,220.78 401.01,221.53 401.13,221.33 401.25,220.19 401.36,222.46 401.48,220.39 401.60,221.52 401.72,220.14 401.84,219.00 401.96,219.50 402.07,220.25 402.19,220.81 402.31,221.61 402.43,220.20 402.54,219.84 402.66,219.01 402.78,219.89 402.90,220.10 403.01,218.02 403.13,220.77 403.25,220.58 403.37,221.43 403.48,218.83 403.60,219.54 403.72,219.47 403.84,218.35 403.96,218.70 404.08,218.56 404.20,219.73 404.31,219.64 404.43,220.36 404.54,218.95 404.66,218.15 404.78,219.63 404.90,219.58 405.01,219.83 405.13,220.30 405.25,218.84 405.37,219.96 405.49,218.51 405.61,219.43 405.73,219.84 405.85,219.17 405.96,219.40 406.08,218.07 406.20,218.61 406.31,219.20 406.43,218.06 406.54,218.28 406.66,220.85 406.77,219.04 406.88,218.11 406.99,217.88 407.10,219.75 407.22,216.32 407.35,218.18 407.47,218.85 407.59,217.80 407.71,218.56 407.83,217.19 407.95,217.91 408.07,217.84 408.18,217.70 408.30,217.70 408.41,217.51 408.53,218.29 408.64,217.11 408.76,216.78 408.87,216.98 408.98,216.94 409.09,215.96 409.20,215.66 409.32,216.16 409.44,217.54 409.56,216.87 409.68,217.19 409.80,219.95 409.92,218.70 410.03,217.79 410.15,217.62 410.26,219.41 410.37,217.86 410.49,219.65 410.60,219.30 410.71,220.09 410.82,218.56 410.93,220.00 411.04,217.95 411.14,219.38 411.25,220.50 411.37,220.32 411.49,218.42 411.61,220.58 411.72,220.54 411.83,220.29 411.94,219.93 412.05,220.47 412.16,220.43 412.27,221.86 412.38,221.68 412.49,222.38 412.59,222.30 412.71,220.94 412.82,222.30 412.93,224.12 413.05,221.72 413.17,223.04 413.30,222.38 413.41,222.45 413.51,223.49 413.62,224.21 413.73,224.24 413.84,224.14 413.95,224.68 414.06,222.77 414.17,224.87 414.28,224.69 414.40,224.37 414.51,224.65 414.63,224.12 414.75,225.86 414.87,224.46 414.99,224.00 415.11,225.28 415.23,224.92 415.36,225.42 415.48,226.77 415.61,225.53 415.74,225.82 415.87,227.61 416.00,224.76 416.11,226.25 416.22,226.97 416.33,227.33 416.44,228.01 416.56,225.78 416.68,226.90 416.79,226.43 416.92,226.23 417.04,226.11 417.16,225.61 417.28,227.14 417.41,227.56 417.53,226.19 417.65,227.75 417.78,226.79 417.90,226.52 418.02,225.33 418.15,228.44 418.27,228.24 418.39,227.52 418.51,227.57 418.63,226.93 418.74,228.47 418.86,228.07 418.97,228.61 419.08,228.34 419.19,227.08 419.30,226.95 419.43,228.50 419.57,226.74 419.69,228.24 419.82,228.65 419.95,226.78 420.07,228.24 420.19,227.62 420.31,227.90 420.43,226.84 420.55,227.22 420.67,227.46 420.78,228.46 420.90,227.45 421.02,227.12 421.13,225.53 421.24,226.68 421.36,225.69 421.47,226.00 421.59,226.08 421.70,226.45 421.83,225.93 421.95,225.37 422.07,224.94 422.19,225.85 422.31,223.83 422.43,224.36 422.55,225.25 422.67,223.80 422.79,224.46 422.91,224.35 423.02,225.08 423.14,224.25 423.25,221.87 423.37,223.06 423.49,223.16 423.60,223.45 423.72,222.95 423.83,224.01 423.95,223.23 424.07,221.23 424.18,221.51 424.30,220.19 424.42,223.07 424.54,221.39 424.66,221.18 424.79,219.82 424.91,220.53 425.04,221.02 425.17,220.13 425.29,219.92 425.42,219.53 425.55,221.42 425.67,219.17 425.79,218.23 425.92,218.79 426.04,218.73 426.15,218.75 426.27,218.43 426.38,217.53 426.49,218.08 426.60,218.35 426.71,216.69 426.80,219.21 426.90,218.77 427.05,215.54 427.19,216.33 427.32,217.05 427.44,216.94 427.56,216.91 427.66,213.59 427.77,213.81 427.87,213.93 427.97,214.43 428.07,212.76 428.18,213.64 428.29,213.31 428.40,213.20 428.51,211.25 428.62,212.14 428.74,211.72 428.85,210.99 428.96,212.06 429.07,210.41 429.18,211.47 429.29,209.43 429.41,210.90 429.52,210.45 429.64,208.01 429.76,208.51 429.88,208.03 430.00,206.51 430.11,207.53 430.22,206.96 430.33,205.35 430.45,205.72 430.57,205.94 430.69,204.68 430.81,203.82 430.93,205.34 431.05,202.83 431.17,203.53 431.29,203.80 431.41,203.17 431.53,200.69 431.65,201.58 431.77,201.40 431.88,201.02 431.99,201.39 432.10,201.03 432.22,200.36 432.35,200.15 432.47,200.44 432.58,200.33 432.70,197.48 432.82,200.50 432.93,197.98 433.04,198.77 433.15,196.51 433.27,197.11 433.38,196.20 433.49,197.79 433.60,197.30 433.72,196.23 433.83,195.74 433.95,195.84 434.06,194.42 434.17,194.34 434.28,193.86 434.39,194.79 434.50,193.79 434.62,192.36 434.74,193.30 434.87,193.05 435.00,193.35 435.10,191.46 435.20,191.92 435.31,192.96 435.41,190.67 435.52,190.30 435.63,190.66 435.74,189.50 435.85,189.56 435.97,188.81 436.08,188.24 436.20,189.26 436.32,187.91 436.45,187.07 436.57,187.33 436.70,187.13 436.82,187.18 436.95,187.40 437.09,187.78 437.22,185.07 437.36,185.60 437.50,184.07 437.61,185.54 437.72,185.61 437.83,184.48 437.95,184.10 438.06,183.87 438.18,183.29 438.30,184.85 438.42,185.73 438.54,183.09 438.66,185.18 438.79,183.60 438.91,182.40 439.03,183.82 439.16,183.81 439.28,183.34 439.40,182.63 439.52,184.02 439.64,182.24 439.76,182.80 439.88,182.61 440.00,181.15 440.12,180.15 440.24,180.03 440.36,180.89 440.49,181.28 440.61,179.33 440.72,179.96 440.84,181.58 440.96,178.66 441.08,180.28 441.20,179.97 441.32,180.11 441.44,178.07 441.55,179.32 441.67,177.70 441.79,179.70 441.91,177.69 442.03,178.47 442.14,177.28 442.26,177.81 442.38,176.21 442.50,177.44 442.62,177.45 442.74,176.71 442.86,177.78 442.98,176.53 443.10,176.63 443.22,176.17 443.35,177.06 443.47,174.78 443.59,174.88 443.71,174.70 443.83,175.17 443.95,174.66 444.07,174.91 444.19,174.26 444.31,173.37 444.43,173.52 444.54,173.69 444.66,171.25 444.77,174.02 444.89,172.20 445.00,172.15 445.13,172.39 445.25,171.72 445.38,170.49 445.50,171.23 445.62,172.29 445.74,171.75 445.86,171.63 445.98,169.90 446.09,169.90 446.21,170.65 446.33,170.72 446.44,169.26 446.56,168.16 446.67,167.10 446.79,169.55 446.91,166.88 447.02,168.20 447.14,168.31 447.26,169.97 447.38,167.19 447.50,166.67 447.62,166.87 447.74,166.63 447.85,167.03 447.97,166.20 448.10,164.71 448.22,163.31 448.34,164.98 448.46,163.89 448.58,165.31 448.70,162.79 448.83,163.76 448.95,162.72 449.07,162.34 449.19,164.18 449.31,162.70 449.43,162.16 449.54,162.67 449.66,161.17 449.78,161.27 449.89,160.80 450.00,162.71 450.12,161.05 450.24,160.97 450.36,161.03 450.47,159.59 450.58,159.25 450.69,157.65 450.80,159.02 450.91,158.47 451.02,157.56 451.13,158.55 451.25,155.75 451.36,157.28 451.49,155.52 451.62,155.49 451.76,156.08 451.90,157.23 452.00,155.10 452.12,155.23 452.23,155.06 452.35,157.76 452.47,156.58 452.60,156.57 452.72,158.06 452.85,156.69 452.97,154.89 453.10,156.39 453.22,155.99 453.33,158.84 453.45,156.16 453.55,157.76 453.66,157.25 453.75,157.47 453.94,158.19 454.09,158.41 454.23,158.32 454.35,158.24 454.46,159.13 454.55,159.23 454.64,159.79 454.72,161.09 454.81,161.32 454.90,162.29 455.00,162.13 455.12,164.46 455.25,162.83 455.36,163.21 455.48,165.53 455.59,164.75 455.70,166.12 455.81,167.53 455.92,167.34 456.03,167.84 456.14,169.66 456.25,169.84 456.36,169.83 456.47,169.98 456.58,171.36 456.68,170.99 456.79,172.34 456.90,172.85 457.01,174.70 457.12,175.79 457.24,175.31 457.37,176.19 457.50,176.34 457.60,176.64 457.71,177.96 457.82,179.32 457.94,179.77 458.06,180.41 458.18,180.23 458.30,178.73 458.42,182.32 458.55,183.20 458.67,183.41 458.80,183.95 458.92,184.67 459.04,186.54 459.17,185.13 459.28,186.71 459.40,186.65 459.52,187.14 459.63,187.08 459.73,187.53 459.83,187.51 459.93,189.58 460.03,189.48 460.12,189.39 460.22,190.42 460.32,190.72 460.43,193.69 460.54,192.81 460.66,193.76 460.79,193.31 460.93,194.09 461.08,196.45 461.25,196.00 461.34,196.69 461.44,198.35 461.54,198.86 461.64,197.99 461.74,198.11 461.85,198.18 461.95,198.01 462.07,200.19 462.18,197.74 462.29,198.91 462.41,197.62 462.53,198.39 462.65,200.00 462.77,200.27 462.89,200.40 463.02,200.07 463.14,199.99 463.26,200.36 463.39,200.73 463.52,202.20 463.64,202.74 463.77,202.14 463.90,201.57 464.02,201.48 464.15,202.76 464.27,202.58 464.40,201.51 464.51,204.41 464.63,203.51 464.75,203.49 464.86,203.28 464.98,203.53 465.10,205.25 465.22,203.95 465.35,205.03 465.47,205.69 465.59,206.89 465.72,206.03 465.84,205.66 465.96,205.47 466.09,206.68 466.21,206.92 466.33,205.85 466.45,206.80 466.58,206.31 466.70,205.19 466.81,205.82 466.93,207.46 467.05,208.13 467.16,207.64 467.28,207.07 467.39,206.82 467.50,208.04 467.63,208.10 467.76,206.72 467.88,208.85 468.01,207.97 468.13,209.37 468.25,209.50 468.37,209.91 468.48,210.43 468.60,210.36 468.72,209.14 468.83,209.39 468.95,211.32 469.06,211.08 469.18,209.60 469.29,209.46 469.41,212.10 469.52,213.44 469.64,212.51 469.76,211.87 469.88,212.53 470.00,210.29 470.12,211.97 470.23,213.89 470.35,214.01 470.47,211.79 470.59,214.80 470.71,214.53 470.83,215.13 470.95,214.46 471.07,214.90 471.20,214.27 471.32,215.70 471.44,216.43 471.56,215.15 471.68,216.47 471.80,215.94 471.92,217.45 472.04,217.59 472.15,214.99 472.27,217.50 472.39,218.14 472.50,216.99 472.62,217.46 472.75,217.69 472.87,217.05 472.99,218.10 473.11,219.69 473.23,219.01 473.35,220.09 473.47,219.88 473.59,220.29 473.71,219.65 473.83,220.45 473.94,221.74 474.06,221.56 474.18,220.88 474.29,220.32 474.41,220.41 474.53,221.67 474.65,222.12 474.76,220.52 474.88,222.52 475.00,222.91 475.12,223.17 475.24,222.76 475.35,225.44 475.47,224.57 475.58,223.02 475.70,223.89 475.81,225.49 475.92,225.58 476.04,225.59 476.15,225.80 476.27,225.98 476.38,226.11 476.50,225.95 476.62,227.60 476.74,225.12 476.86,227.12 476.98,229.05 477.11,227.64 477.24,227.56 477.37,230.37 477.50,229.90 477.61,229.09 477.72,228.90 477.83,229.37 477.94,229.44 478.05,229.70 478.16,229.45 478.27,230.67 478.39,229.92 478.50,229.03 478.62,229.61 478.74,230.82 478.85,230.10 478.97,229.01 479.10,232.42 479.22,231.68 479.34,230.97 479.47,231.01 479.60,231.95 479.73,232.75 479.86,231.19 480.00,232.14 480.11,231.37 480.22,232.25 480.33,231.13 480.45,230.67 480.57,232.36 480.69,232.35 480.81,233.11 480.93,232.05 481.05,233.83 481.17,232.85 481.30,234.11 481.42,232.59 481.55,234.15 481.67,232.87 481.80,233.04 481.92,233.72 482.04,231.43 482.16,231.99 482.28,234.37 482.40,231.57 482.52,232.37 482.64,233.20 482.75,233.92 482.88,232.24 483.00,232.72 483.13,231.61 483.26,232.17 483.38,233.26 483.50,232.60 483.63,232.21 483.75,232.49 483.87,232.15 483.99,232.07 484.11,231.52 484.23,230.89 484.35,232.14 484.47,230.50 484.58,232.18 484.70,232.98 484.81,232.36 484.93,232.92 485.04,230.02 485.15,230.98 485.27,229.98 485.38,229.95 485.49,229.03 485.60,229.33 485.73,230.91 485.86,230.63 485.98,230.88 486.11,230.64 486.24,230.16 486.36,228.64 486.48,228.98 486.60,229.45 486.72,229.63 486.84,228.04 486.96,227.68 487.08,227.47 487.20,228.89 487.31,227.78 487.43,226.80 487.54,226.18 487.66,226.93 487.77,224.95 487.88,225.91 487.99,225.41 488.10,225.18 488.23,225.57 488.36,225.49 488.49,227.40 488.61,224.72 488.73,224.95 488.86,223.45 488.97,222.48 489.09,224.52 489.21,224.91 489.32,222.18 489.44,222.65 489.55,223.32 489.67,222.17 489.78,219.81 489.89,222.30 490.01,221.04 490.13,221.44 490.24,219.73 490.36,220.94 490.48,220.77 490.60,219.01 490.72,219.73 490.83,218.51 490.94,218.34 491.06,217.72 491.17,217.83 491.28,217.35 491.39,218.60 491.50,217.18 491.62,216.17 491.73,217.97 491.85,217.03 491.96,217.15 492.08,216.04 492.20,216.43 492.32,215.55 492.44,214.63 492.57,215.28 492.70,215.11 492.83,214.89 492.96,215.27 493.10,212.96 493.20,214.48 493.31,213.44 493.42,213.72 493.53,214.16 493.64,213.69 493.76,212.93 493.87,213.93 493.99,213.08 494.11,213.71 494.23,213.76 494.35,212.26 494.47,211.46 494.59,212.24 494.71,212.66 494.84,212.08 494.96,210.70 495.08,210.12 495.20,210.61 495.32,210.48 495.44,211.66 495.56,211.08 495.68,211.63 495.80,210.73 495.91,212.03 496.03,210.52 496.14,210.80 496.25,209.83 496.38,210.30 496.50,210.58 496.63,210.07 496.75,210.22 496.88,208.42 497.00,209.03 497.12,209.81 497.25,208.39 497.37,207.84 497.49,207.58 497.61,207.15 497.73,207.53 497.84,208.39 497.96,207.47 498.08,206.94 498.19,206.17 498.30,205.74 498.42,208.47 498.53,205.98 498.64,206.28 498.75,205.63 498.88,205.93 499.01,205.20 499.14,205.36 499.27,206.17 499.39,204.09 499.51,204.81 499.64,204.00 499.76,204.31 499.87,202.83 499.99,203.38 500.11,201.93 500.22,200.91 500.34,201.00 500.45,200.98 500.57,200.53 500.68,200.88 500.79,201.74 500.91,199.63 501.02,200.63 501.14,200.11 501.25,199.13 501.37,198.65 501.49,199.44 501.61,199.16 501.73,198.15 501.84,197.97 501.95,197.72 502.07,196.30 502.18,197.07 502.29,196.84 502.40,197.62 502.51,194.76 502.63,194.68 502.74,195.05 502.86,194.10 502.97,193.85 503.10,193.80 503.22,193.18 503.35,193.03 503.48,193.07 503.61,191.09 503.75,192.55 503.86,190.06 503.97,193.03 504.09,192.18 504.21,190.72 504.33,191.81 504.45,190.66 504.57,190.91 504.70,190.96 504.83,190.44 504.95,189.97 505.08,190.29 505.21,189.48 505.33,189.18 505.46,188.59 505.58,187.78 505.70,190.40 505.82,189.65 505.93,187.81 506.04,189.18 506.15,188.96 506.25,186.96 506.36,188.00 506.47,188.53 506.57,189.95 506.67,189.41 506.77,189.51 506.87,188.74 506.98,189.28 507.10,187.55 507.19,189.01 507.29,189.14 507.39,187.60 507.50,188.90 507.60,190.02 507.71,190.46 507.82,190.18 507.94,188.63 508.06,189.29 508.17,189.14 508.30,190.74 508.42,189.29 508.54,189.35 508.67,189.12 508.80,190.81 508.92,191.22 509.05,190.60 509.18,190.66 509.31,191.29 509.44,192.65 509.57,190.60 509.70,191.72 509.81,191.96 509.93,192.12 510.04,192.84 510.16,192.51 510.28,192.07 510.41,193.03 510.53,192.77 510.66,192.10 510.78,192.07 510.91,190.95 511.03,192.01 511.16,191.29 511.28,191.01 511.40,191.70 511.52,190.51 511.64,191.14 511.76,191.38 511.88,191.97 511.99,191.34 512.09,191.79 512.20,192.60 512.30,191.83 512.46,189.98 512.60,189.19 512.74,189.58 512.88,189.31 513.01,188.14 513.14,188.07 513.26,187.80 513.37,188.42 513.48,189.80 513.59,189.78 513.70,187.35 513.80,187.57 513.91,186.61 514.01,186.18 514.10,187.21 514.20,187.09 514.30,186.34 514.40,187.15 514.54,186.09 514.67,186.92 514.79,185.32 514.91,186.07 515.02,184.88 515.13,184.78 515.24,184.81 515.35,182.87 515.45,182.97 515.56,183.13 515.67,182.58 515.78,182.63 515.90,181.40 516.01,180.64 516.12,181.28 516.23,181.27 516.34,180.09 516.46,181.40 516.57,180.69 516.68,180.54 516.80,180.21 516.91,178.63 517.03,180.74 517.14,178.20 517.26,178.79 517.38,178.78 517.50,178.15 517.61,177.73 517.72,176.61 517.84,176.59 517.95,176.56 518.07,177.17 518.19,175.19 518.30,175.84 518.42,175.20 518.54,174.48 518.66,173.53 518.78,173.42 518.90,171.72 519.02,172.77 519.14,172.55 519.26,171.49 519.37,171.96 519.49,171.45 519.60,170.29 519.72,171.21 519.83,169.80 519.94,171.85 520.05,168.80 520.16,168.69 520.27,168.56 520.38,168.99 520.49,169.48 520.61,168.38 520.72,167.76 520.84,169.38 520.97,168.47 521.10,167.23 521.20,167.20 521.31,165.90 521.41,166.98 521.51,168.14 521.62,165.65 521.73,165.26 521.84,166.32 521.95,164.12 522.07,166.98 522.18,164.50 522.31,165.00 522.43,165.33 522.56,166.33 522.70,165.62 522.80,163.76 522.91,163.91 523.02,165.42 523.13,163.59 523.25,165.04 523.37,164.65 523.49,165.99 523.62,166.37 523.75,163.47 523.87,165.90 524.00,166.16 524.13,165.14 524.26,165.38 524.38,165.01 524.51,165.81 524.63,166.53 524.75,167.40 524.87,167.61 524.98,166.37 525.09,166.07 525.20,167.68 525.30,164.82 525.45,166.17 525.59,168.09 525.73,169.66 525.85,167.58 525.97,168.62 526.09,167.98 526.19,169.16 526.30,169.50 526.40,169.30 526.51,170.57 526.61,170.46 526.71,171.34 526.82,171.11 526.92,170.63 527.03,172.03 527.15,172.91 527.27,171.90 527.40,173.90 527.51,173.41 527.62,172.99 527.73,173.54 527.84,173.40 527.95,173.24 528.07,174.92 528.19,175.14 528.30,174.28 528.42,174.72 528.54,174.92 528.66,175.87 528.78,176.71 528.90,175.23 529.03,176.22 529.15,176.16 529.27,176.82 529.39,177.72 529.52,176.04 529.64,175.26 529.76,176.92 529.88,175.91 530.00,178.66 530.11,176.88 530.23,177.34 530.34,177.89 530.45,178.00 530.57,177.63 530.68,178.12 530.79,179.03 530.90,178.19 531.02,180.08 531.13,179.06 531.25,177.06 531.36,179.84 531.48,177.89 531.60,179.73 531.72,181.43 531.84,180.62 531.97,178.96 532.10,179.31 532.21,180.03 532.32,181.19 532.43,179.44 532.54,180.88 532.66,180.19 532.77,179.78 532.89,179.62 533.01,180.97 533.13,178.27 533.25,178.41 533.37,179.88 533.49,179.78 533.61,177.77 533.73,177.91 533.85,177.56 533.98,178.76 534.10,177.65 534.22,179.18 534.34,178.53 534.46,178.01 534.58,177.85 534.70,178.04 534.82,178.21 534.94,177.47 535.06,177.61 535.18,177.98 535.30,177.24 535.43,178.06 535.55,177.10 535.68,176.56 535.80,177.28 535.92,178.41 536.05,178.23 536.17,175.69 536.29,177.14 536.41,176.40 536.53,176.44 536.65,176.30 536.76,176.26 536.87,175.88 536.98,175.92 537.09,176.16 537.20,174.84 537.30,174.64 537.45,174.44 537.59,174.12 537.72,175.19 537.85,173.50 537.96,173.99 538.07,173.77 538.18,173.95 538.28,173.06 538.37,173.55 538.47,172.32 538.57,172.24 538.66,172.33 538.76,170.25 538.86,171.43 538.97,172.04 539.08,170.65 539.20,170.11 539.32,171.59 539.45,169.91 539.60,170.60 539.75,167.50 539.85,169.36 539.96,168.75 540.07,169.35 540.18,169.88 540.29,168.72 540.41,168.58 540.53,166.43 540.65,169.25 540.77,169.62 540.89,168.62 541.01,168.06 541.13,168.66 541.26,169.11 541.38,168.70 541.51,169.74 541.63,167.49 541.76,166.71 541.88,168.04 542.01,168.51 542.13,166.98 542.25,167.19 542.37,166.58 542.49,166.04 542.60,166.33 542.72,165.35 542.84,166.88 542.96,166.94 543.08,167.14 543.20,166.02 543.32,166.10 543.44,165.46 543.56,165.55 543.68,166.75 543.80,167.66 543.92,165.62 544.04,165.88 544.16,166.43 544.28,165.64 544.40,166.13 544.51,165.72 544.63,165.68 544.75,166.08 544.87,165.63 544.99,165.28 545.11,165.92 545.23,165.65 545.35,165.48 545.46,165.40 545.58,165.72 545.70,165.42 545.82,165.57 545.94,165.70 546.06,165.50 546.17,165.64 546.29,165.31 546.41,165.51 546.53,165.46 546.65,165.50 546.76,165.37 546.88,165.35 547.00,165.30 547.20,180.00 547.50,255.00 547.80,300.00 548.80,322.00 549.60,345.00 549.90,349.00 550.20,330.00 550.30,300.00 550.70,255.00 551.00,200.00 551.10,165.00 551.22,164.99 551.33,164.85 551.45,164.90 551.57,164.79 551.69,164.69 551.81,164.64 551.93,164.59 552.04,164.67 552.16,164.86 552.28,164.50 552.40,164.37 552.52,164.70 552.64,164.56 552.75,164.14 552.87,164.58 552.99,164.20 553.10,164.36 553.22,164.50 553.33,164.01 553.45,164.12 553.56,164.35 553.68,163.51 553.79,163.93 553.90,163.23 554.02,164.15 554.14,163.93 554.26,163.45 554.38,163.57 554.50,162.97 554.62,163.84 554.74,163.36 554.86,163.89 554.98,164.41 555.10,163.52 555.21,163.11 555.33,164.71 555.44,163.41 555.56,164.69 555.67,164.24 555.78,164.84 555.89,163.64 555.99,162.73 556.10,163.73 556.20,164.33 556.34,165.79 556.47,163.86 556.60,165.10 556.73,163.85 556.85,164.82 556.97,166.18 557.09,166.31 557.21,166.12 557.32,166.06 557.44,166.59 557.55,167.19 557.66,166.53 557.77,166.73 557.88,167.16 557.99,167.47 558.09,166.00 558.20,167.34 558.33,167.45 558.47,167.84 558.60,167.54 558.72,169.05 558.85,168.99 558.97,168.63 559.09,171.12 559.21,169.55 559.33,170.11 559.45,169.54 559.56,169.94 559.67,170.50 559.79,169.32 559.89,168.92 560.00,171.93 560.15,169.36 560.28,170.02 560.41,171.34 560.54,171.54 560.65,172.67 560.77,174.40 560.88,174.40 560.99,172.72 561.10,174.56 561.20,175.87 561.31,176.26 561.42,175.49 561.54,177.27 561.65,179.33 561.77,179.14 561.90,179.38 562.01,179.30 562.12,181.70 562.22,183.41 562.33,181.35 562.44,183.30 562.55,183.08 562.66,182.68 562.77,182.89 562.89,184.83 563.00,184.96 563.12,184.98 563.24,186.24 563.36,186.89 563.48,189.05 563.61,187.39 563.73,187.35 563.87,187.58 564.00,189.25 564.11,189.84 564.21,189.38 564.32,190.64 564.43,190.28 564.54,190.33 564.65,190.45 564.76,191.19 564.87,191.66 564.99,191.50 565.10,191.25 565.22,191.52 565.34,193.59 565.46,192.48 565.59,194.66 565.71,192.36 565.84,193.63 565.98,193.67 566.11,193.07 566.25,192.90 566.35,193.77 566.46,195.55 566.56,194.01 566.67,195.11 566.77,195.31 566.88,195.60 566.99,193.39 567.10,194.85 567.21,193.86 567.32,195.99 567.43,196.34 567.55,196.78 567.67,196.65 567.78,197.18 567.90,197.19 568.02,196.85 568.15,197.40 568.27,196.14 568.40,197.16 568.53,196.33 568.66,196.79 568.79,197.55 568.92,198.68 569.06,197.53 569.20,198.32 569.31,197.92 569.41,199.02 569.52,198.58 569.63,197.68 569.74,198.95 569.85,198.49 569.96,198.22 570.08,199.76 570.19,198.49 570.31,198.06 570.42,196.93 570.54,197.55 570.66,199.58 570.78,196.31 570.90,199.85 571.02,198.20 571.14,198.28 571.27,200.08 571.39,197.97 571.51,198.96 571.64,198.79 571.77,199.39 571.89,200.58 572.02,201.22 572.15,198.46 572.28,199.05 572.41,202.02 572.54,200.68 572.67,201.79 572.80,201.80 572.91,200.42 573.02,199.79 573.13,201.24 573.25,200.93 573.36,201.91 573.48,201.09 573.60,202.75 573.71,199.51 573.83,199.48 573.95,200.45 574.07,199.93 574.19,200.93 574.31,200.25 574.44,201.84 574.56,200.87 574.68,201.04 574.81,200.19 574.93,200.56 575.05,200.20 575.18,199.70 575.30,200.62 575.42,198.76 575.54,199.94 575.67,199.78 575.79,201.25 575.91,200.03 576.03,198.87 576.15,200.19 576.27,200.63 576.39,200.76 576.51,201.12 576.63,201.10 576.75,200.91 576.86,201.66 576.98,200.30 577.09,201.04 577.20,200.77 577.33,200.93 577.46,200.99 577.58,200.30 577.71,200.28 577.84,200.43 577.96,198.50 578.09,200.50 578.22,200.88 578.34,199.85 578.47,199.62 578.59,199.68 578.71,200.70 578.84,199.36 578.96,200.58 579.08,198.59 579.20,199.25 579.32,201.00 579.44,199.34 579.56,198.63 579.68,200.02 579.79,199.41 579.91,199.72 580.02,200.19 580.14,199.32 580.25,200.01 580.36,199.37 580.47,199.54 580.58,199.21 580.69,198.24 580.80,198.54 580.93,198.60 581.06,199.63 581.19,198.23 581.32,197.98 581.45,198.83 581.58,199.18 581.71,198.60 581.83,198.17 581.96,197.11 582.08,198.60 582.20,199.04 582.32,197.85 582.43,198.14 582.55,197.19 582.66,197.23 582.77,197.79 582.88,197.47 582.99,197.93 583.10,197.64 583.20,197.08 583.30,196.97 583.45,197.95 583.59,196.68 583.73,198.20 583.86,197.71 583.98,197.13 584.10,197.76 584.22,198.50 584.33,201.09 584.44,199.33 584.55,198.76 584.65,200.87 584.76,199.59 584.87,199.66 584.98,201.35 585.09,202.15 585.20,203.22 585.32,202.15 585.44,201.50 585.55,202.42 585.66,203.70 585.78,204.16 585.89,202.43 586.00,204.68 586.11,203.39 586.22,202.86 586.33,204.58 586.44,204.40 586.55,203.36 586.66,204.02 586.78,205.09 586.90,205.71 587.02,204.73 587.14,206.82 587.27,205.55 587.40,205.79 587.50,207.37 587.61,208.04 587.71,207.06 587.82,207.40 587.93,208.10 588.04,208.97 588.15,207.97 588.26,208.38 588.37,208.26 588.49,207.62 588.60,209.70 588.72,209.04 588.83,210.37 588.95,209.37 589.07,211.04 589.19,210.36 589.31,211.21 589.43,209.59 589.55,210.31 589.68,210.64 589.80,212.85 589.92,211.95 590.05,211.44 590.17,210.29 590.30,211.53 590.41,213.59 590.52,212.31 590.63,213.38 590.74,211.75 590.86,213.58 590.97,214.29 591.08,213.97 591.19,212.99 591.30,213.08 591.42,214.58 591.53,213.41 591.65,213.26 591.77,214.68 591.89,213.80 592.01,213.90 592.13,214.80 592.25,215.00 592.38,214.11 592.51,215.35 592.63,216.45 592.77,216.14 592.90,216.53 593.01,216.56 593.11,215.90 593.22,216.12 593.33,215.20 593.44,215.32 593.55,215.49 593.67,215.22 593.78,217.77 593.89,217.29 594.01,215.00 594.13,216.79 594.24,216.37 594.36,216.65 594.48,216.65 594.60,217.09 594.72,215.39 594.84,215.57 594.96,215.99 595.08,217.08 595.20,216.36 595.32,216.28 595.44,216.13 595.56,216.93 595.68,216.60 595.80,217.41 595.92,217.80 596.03,216.77 596.15,215.54 596.27,215.22 596.39,216.08 596.51,216.33 596.63,216.16 596.75,216.34 596.87,216.10 596.99,217.12 597.12,215.98 597.24,216.98 597.36,216.14 597.48,215.67 597.61,216.01 597.73,215.49 597.85,215.99 597.97,214.13 598.09,215.90 598.22,216.57 598.34,216.65 598.46,215.12 598.58,214.76 598.70,216.50 598.81,214.31 598.93,215.21 599.05,214.89 599.16,215.22 599.28,215.56 599.39,215.76 599.50,212.96 599.63,214.04 599.75,212.50 599.88,213.39 600.00,212.55 600.13,213.39 600.25,213.04 600.37,213.55 600.50,213.66 600.62,213.17 600.74,213.53 600.86,213.72 600.98,212.60 601.09,212.55 601.21,211.81 601.33,211.54 601.44,212.67 601.56,213.18 601.67,211.88 601.79,210.39 601.90,210.80 602.01,211.41 602.13,211.14 602.24,210.18 602.35,210.88 602.46,210.71 602.57,209.36 602.67,209.58 602.78,210.74 602.89,209.42 602.99,209.86 603.10,210.89 603.23,210.40 603.37,210.12 603.50,208.40 603.63,208.58 603.76,208.92 603.89,208.67 604.02,209.07 604.14,208.79 604.27,208.80 604.39,208.87 604.52,207.37 604.64,206.40 604.76,207.64 604.88,206.79 605.00,206.54 605.11,205.73 605.23,205.70 605.35,207.39 605.46,203.75 605.57,205.48 605.68,204.84 605.79,204.81 605.89,203.57 606.00,203.65 606.10,202.96 606.21,202.79 606.31,202.34 606.40,203.71 606.50,202.94 606.65,202.12 606.78,201.56 606.92,200.36 607.04,199.22 607.17,200.29 607.28,198.89 607.40,198.80 607.51,198.15 607.62,198.16 607.72,197.75 607.83,198.85 607.93,198.63 608.04,197.10 608.15,197.18 608.26,196.32 608.37,196.20 608.48,195.23 608.60,195.48 608.71,193.54 608.82,192.42 608.94,195.49 609.05,193.75 609.16,193.25 609.28,193.30 609.39,192.61 609.51,192.76 609.62,190.88 609.74,190.89 609.85,192.10 609.97,190.95 610.08,189.82 610.20,188.98 610.32,191.16 610.44,190.22 610.56,189.49 610.68,187.50 610.80,187.79 610.91,187.01 611.02,186.05 611.13,186.75 611.24,186.52 611.35,188.16 611.46,185.02 611.57,186.52 611.68,185.63 611.79,185.56 611.91,184.75 612.02,185.08 612.14,183.87 612.25,184.54 612.37,183.85 612.49,182.16 612.62,182.43 612.74,183.73 612.87,183.33 613.00,180.94 613.10,181.65 613.21,182.48 613.31,181.31 613.42,180.18 613.53,181.00 613.64,180.41 613.74,178.75 613.85,180.32 613.97,179.91 614.08,180.15 614.19,180.95 614.31,180.83 614.42,180.54 614.54,180.50 614.66,178.30 614.78,178.13 614.90,179.18 615.02,178.79 615.15,179.07 615.27,178.25 615.40,179.00 615.53,179.72 615.67,178.22 615.80,178.12 615.90,177.68 616.01,176.30 616.12,177.66 616.22,177.51 616.33,177.73 616.44,176.79 616.55,178.28 616.66,177.80 616.77,178.28 616.88,174.35 617.00,175.83 617.11,176.59 617.23,176.16 617.34,175.87 617.46,175.28 617.58,175.90 617.70,174.54 617.82,174.43 617.94,176.37 618.06,173.93 618.18,174.76 618.31,173.94 618.43,174.30 618.56,173.55 618.68,174.17 618.81,174.24 618.94,173.08 619.07,172.69 619.20,172.52 619.31,172.24 619.42,174.12 619.54,174.36 619.65,171.40 619.77,172.23 619.89,173.00 620.01,173.65 620.13,172.02 620.25,172.61 620.37,173.24 620.49,173.93 620.61,172.63 620.74,174.30 620.86,172.91 620.98,174.50 621.11,173.39 621.23,173.76 621.35,174.81 621.48,174.64 621.60,175.03 621.72,174.41 621.85,174.41 621.97,175.69 622.09,176.27 622.21,175.14 622.33,175.16 622.45,174.20 622.57,176.30 622.68,174.48 622.80,175.07 622.93,175.79 623.05,172.37 623.17,174.29 623.30,173.39 623.42,174.06 623.54,174.36 623.67,173.12 623.79,175.14 623.91,176.08 624.03,173.86 624.15,174.03 624.27,175.34 624.39,174.19 624.51,172.88 624.62,174.14 624.74,173.07 624.86,174.52 624.98,172.82 625.10,174.42 625.21,172.12 625.33,172.88 625.45,171.23 625.56,174.91 625.68,172.77 625.80,172.39 625.91,172.87 626.03,172.55 626.15,172.71 626.27,174.06 626.38,173.41 626.50,171.61 626.62,172.10 626.74,171.64 626.85,171.97 626.97,170.58 627.09,170.98 627.20,169.89 627.32,171.44 627.44,170.31 627.55,171.67 627.67,170.70 627.79,169.25 627.90,171.66 628.02,168.43 628.13,172.27 628.25,171.15 628.36,170.92 628.48,170.82 628.60,170.16 628.71,168.89 628.83,168.17 628.94,168.65 629.06,166.33 629.17,168.49 629.29,167.92 629.40,168.00 629.52,167.30 629.64,166.36 629.75,167.54 629.87,167.04 629.98,166.99 630.10,167.33 630.22,167.95 630.34,168.28 630.45,166.21 630.57,167.31 630.69,165.51 630.81,166.10 630.93,166.07 631.05,166.69 631.17,166.75 631.29,166.95 631.41,166.61 631.53,166.36 631.65,165.19 631.77,166.57 631.89,165.23 632.01,166.43 632.13,165.52 632.25,167.31 632.37,164.74 632.49,165.86 632.60,166.24 632.72,164.86 632.84,164.87 632.95,166.39 633.07,165.68 633.18,165.03 633.30,164.18 633.41,164.05 633.53,163.03 633.64,165.55 633.75,164.09 633.87,164.40 634.00,164.84 634.12,164.20 634.24,163.27 634.35,164.35 634.47,161.55 634.59,163.93 634.70,163.12 634.82,162.50 634.93,162.95 635.05,163.17 635.16,161.56 635.27,162.23 635.39,161.57 635.50,161.68 635.62,162.36 635.73,161.27 635.85,160.71 635.97,161.25 636.08,162.71 636.20,162.45 636.33,161.95 636.45,162.52 636.57,161.01 636.70,160.54 636.81,160.30 636.93,161.18 637.04,161.13 637.16,159.65 637.28,162.51 637.41,161.09 637.53,159.04 637.65,158.72 637.78,160.26 637.91,160.13 638.03,158.94 638.16,159.77 638.29,159.63 638.41,159.44 638.54,160.47 638.67,158.28 638.80,159.13 638.92,158.07 639.05,159.06 639.17,159.06 639.29,160.60 639.41,157.94 639.53,158.81 639.65,158.44 639.76,158.56 639.88,157.85 639.99,157.38 640.09,157.73 640.20,157.55 640.30,158.90 640.44,157.82 640.57,159.00 640.70,156.93 640.82,156.02 640.95,156.84 641.06,156.85 641.18,158.68 641.29,155.90 641.40,157.34 641.51,156.23 641.62,155.84 641.73,156.99 641.83,155.58 641.94,157.49 642.05,156.36 642.16,156.35 642.27,155.39 642.38,155.76 642.50,156.08 642.62,154.49 642.74,154.87 642.86,154.01 642.98,154.27 643.10,154.46 643.22,152.57 643.34,153.90 643.46,153.14 643.58,154.09 643.71,152.24 643.83,152.69 643.95,152.59 644.07,153.52 644.19,152.43 644.31,153.54 644.43,152.80 644.54,151.19 644.66,150.72 644.77,151.46 644.89,151.97 645.00,151.18 645.13,150.28 645.25,151.32 645.38,150.47 645.49,149.80 645.61,150.45 645.73,149.83 645.84,148.41 645.96,149.32 646.07,149.48 646.18,148.17 646.29,147.30 646.40,148.69 646.52,148.68 646.63,147.32 646.75,147.30 646.87,146.19 646.99,146.52 647.11,145.02 647.24,145.57 647.37,145.72 647.50,144.75 647.61,144.95 647.72,144.92 647.82,145.71 647.94,144.06 648.05,143.17 648.16,143.51 648.27,143.34 648.39,144.13 648.50,144.62 648.62,142.42 648.74,143.34 648.85,143.47 648.97,142.67 649.09,142.60 649.21,141.89 649.34,143.36 649.46,142.74 649.58,141.19 649.71,142.06 649.83,140.67 649.96,141.86 650.09,142.08 650.21,139.61 650.34,140.68 650.47,140.59 650.60,142.30 650.71,140.88 650.82,140.79 650.93,139.96 651.04,140.02 651.15,140.26 651.27,139.69 651.38,139.87 651.49,139.13 651.61,138.10 651.72,139.18 651.84,138.90 651.95,137.55 652.07,137.81 652.19,138.09 652.30,139.62 652.42,138.89 652.54,139.65 652.66,136.52 652.78,138.56 652.90,139.43 653.02,137.79 653.14,138.44 653.26,137.27 653.38,138.21 653.51,137.77 653.63,136.53 653.75,138.48 653.86,137.51 653.98,137.70 654.09,135.87 654.21,137.77 654.33,136.51 654.44,137.45 654.56,135.85 654.68,137.58 654.80,136.25 654.92,136.47 655.04,135.90 655.17,134.88 655.29,135.97 655.41,137.00 655.53,136.97 655.65,135.63 655.77,136.89 655.89,135.71 656.00,134.85 656.12,135.69 656.24,135.77 656.35,136.55 656.46,133.98 656.58,136.67 656.69,136.40 656.79,136.21 656.90,134.63 657.03,134.52 657.16,136.60 657.29,135.61 657.41,136.71 657.53,135.06 657.65,136.63 657.77,136.65 657.88,135.29 658.00,136.26 658.11,138.08 658.23,136.20 658.34,137.86 658.46,137.14 658.57,136.54 658.68,137.01 658.80,136.78 658.92,139.16 659.03,136.64 659.15,137.05 659.28,138.15 659.40,139.03 659.51,137.30 659.63,137.76 659.75,138.39 659.86,138.43 659.98,138.89 660.10,138.48 660.22,139.12 660.34,139.87 660.46,138.51 660.59,138.29 660.71,139.10 660.83,139.92 660.95,142.04 661.07,140.71 661.19,140.54 661.32,137.87 661.44,138.78 661.56,140.87 661.67,139.95 661.79,139.91 661.91,141.17 662.02,141.54 662.14,141.07 662.25,140.79 662.38,139.18 662.51,140.44 662.63,141.24 662.76,140.32 662.89,139.18 663.01,138.30 663.13,139.80 663.26,140.37 663.38,139.14 663.50,139.38 663.62,139.70 663.74,138.76 663.86,138.89 663.98,138.31 664.10,138.05 664.22,138.87 664.33,138.77 664.45,137.99 664.56,136.86 664.67,138.19 664.78,138.35 664.89,138.12 665.00,137.95 665.14,137.17 665.27,136.74 665.41,137.10 665.54,136.87 665.67,136.55 665.80,135.06 665.93,133.95 666.06,135.35 666.19,134.96 666.31,134.56 666.43,134.41 666.55,132.41 666.67,132.80 666.79,133.49 666.90,132.29 667.01,132.23 667.11,133.23 667.21,132.42 667.31,131.16 667.41,131.54 667.50,130.49 667.65,130.95 667.77,129.07 667.88,128.32 667.97,130.34 668.05,129.43 668.13,127.40 668.21,128.00 668.31,125.23 668.43,126.72 668.57,127.15 668.75,126.46 668.84,125.82 668.94,125.48 669.04,125.55 669.14,126.85 669.25,124.69 669.37,125.08 669.49,125.35 669.61,123.89 669.73,125.62 669.86,122.72 669.98,123.88 670.11,123.51 670.24,123.61 670.37,122.45 670.50,122.96 670.63,123.29 670.76,122.20 670.88,123.34 671.01,120.87 671.13,122.12 671.25,123.32 671.37,121.12 671.49,121.74 671.60,121.21 671.72,120.87 671.83,121.66 671.94,119.92 672.06,121.20 672.17,119.50 672.29,120.21 672.40,120.84 672.51,119.57 672.63,119.86 672.75,121.40 672.86,119.54 672.98,119.43 673.11,119.53 673.23,119.27 673.36,118.62 673.48,118.22 673.62,118.44 673.75,118.37 673.86,119.03 673.97,117.91 674.08,118.36 674.19,119.16 674.31,116.19 674.42,117.20 674.54,117.06 674.65,117.02 674.77,118.16 674.89,116.72 675.01,117.00 675.13,118.09 675.25,115.03 675.37,115.66 675.50,115.71 675.62,116.63 675.75,117.03 675.87,115.93 676.00,117.74 676.12,117.95 676.25,116.07 676.36,116.29 676.47,115.96 676.58,117.31 676.70,116.51 676.81,117.66 676.93,117.86 677.04,117.06 677.16,116.46 677.28,115.21 677.40,117.57 677.52,117.81 677.64,117.56 677.76,116.95 677.88,118.58 678.00,117.79 678.12,118.48 678.24,118.68 678.35,118.92 678.47,118.76 678.59,117.04 678.71,118.66 678.83,118.35 678.94,118.04 679.06,117.78 679.17,117.75 679.29,118.14 679.40,118.27 679.53,118.53 679.65,116.94 679.77,117.69 679.90,118.88 680.02,119.16 680.14,118.01 680.27,117.78 680.39,119.58 680.51,117.20 680.63,118.75 680.75,118.51 680.87,118.03 680.99,118.47 681.11,118.05 681.23,117.27 681.34,117.84 681.46,119.13 681.58,117.16 681.70,117.69 681.81,118.27 681.93,115.92 682.04,116.52 682.16,115.67 682.27,116.44 682.39,115.86 682.50,117.12 682.62,115.90 682.75,116.59 682.87,116.11 682.99,116.23 683.12,115.07 683.24,116.46 683.36,115.52 683.48,115.34 683.60,114.77 683.72,115.66 683.84,114.79 683.96,114.49 684.08,114.93 684.19,113.06 684.31,115.67 684.43,114.26 684.54,115.28 684.66,113.41 684.77,112.64 684.89,113.38 685.00,114.29 685.13,114.82 685.25,114.73 685.37,114.34 685.49,112.65 685.61,112.63 685.73,113.16 685.84,113.24 685.96,111.70 686.08,111.50 686.19,111.01 686.31,112.83 686.42,110.96 686.54,111.76 686.65,111.42 686.77,111.59 686.89,109.84 687.01,110.96 687.13,111.50 687.25,111.17 687.37,110.29 687.50,111.10 687.61,110.63 687.72,110.12 687.83,110.39 687.95,112.09 688.06,109.85 688.18,108.98 688.29,110.69 688.41,110.73 688.52,110.47 688.64,109.91 688.76,110.74 688.88,111.44 688.99,110.96 689.11,108.06 689.23,108.95 689.35,109.73 689.47,107.72 689.58,110.77 689.70,109.92 689.82,108.60 689.93,108.38 690.05,110.08 690.17,108.89 690.29,109.41 690.41,108.35 690.53,108.37 690.65,108.96 690.77,109.44 690.89,110.16 691.01,109.21 691.12,110.37 691.24,109.51 691.36,109.32 691.47,109.82 691.58,109.92 691.69,109.44 691.80,109.09 691.90,111.11 692.03,111.04 692.16,111.62 692.28,109.95 692.40,111.09 692.51,110.45 692.62,112.73 692.73,113.19 692.84,112.49 692.95,113.29 693.06,111.16 693.16,112.36 693.28,112.81 693.39,113.23 693.50,113.02 693.63,113.67 693.75,113.47 693.86,113.12 693.97,114.47 694.08,113.26 694.19,114.29 694.31,114.28 694.42,113.03 694.54,113.65 694.66,115.72 694.77,114.16 694.89,114.73 695.01,113.88 695.14,115.15 695.26,114.37 695.38,115.12 695.51,115.08 695.64,113.72 695.77,114.41 695.90,114.92 696.01,113.61 696.12,114.44 696.23,114.19 696.34,114.85 696.45,113.47 696.57,114.61 696.68,114.93 696.80,113.77 696.92,113.80 697.03,114.65 697.15,113.62 697.27,114.37 697.39,114.87 697.52,112.81 697.64,114.16 697.76,114.70 697.88,112.53 698.01,113.77 698.13,113.92 698.25,113.16 698.38,113.61 698.50,112.52 698.63,113.31 698.75,112.65 698.86,113.75 698.98,113.17 699.09,113.17 699.20,113.86 699.32,113.40 699.44,112.59 699.55,112.89 699.67,112.54 699.79,113.54 699.91,114.16 700.02,114.70 700.14,113.85 700.26,112.64 700.38,113.85 700.50,112.45 700.62,112.19 700.74,112.47 700.86,113.56 700.97,111.96 701.09,113.65 701.21,113.11 701.33,114.52 701.44,113.15 701.56,112.82 701.67,112.25 701.79,112.46 701.90,113.29 702.02,112.01 702.15,111.04 702.27,112.69 702.40,113.01 702.52,112.96 702.64,112.86 702.77,112.45 702.89,111.92 703.01,114.25 703.13,113.66 703.26,113.35 703.38,112.67 703.50,112.41 703.62,112.84 703.74,113.53 703.86,113.13 703.97,113.07 704.09,113.59 704.21,112.66 704.33,112.57 704.44,113.03 704.55,113.26 704.67,114.90 704.78,115.41 704.89,112.88 705.00,113.23 705.13,114.02 705.26,112.65 705.39,113.89 705.52,115.63 705.65,114.18 705.78,114.61 705.91,116.05 706.03,116.81 706.16,115.43 706.28,115.78 706.41,116.21 706.53,116.85 706.64,114.90 706.76,116.64 706.87,116.18 706.99,116.83 707.10,117.18 707.20,114.89 707.30,117.62 707.40,116.96 707.50,116.69 707.65,117.49 707.80,117.64 707.93,119.03 708.06,118.19 708.18,118.46 708.30,118.22 708.41,118.81 708.51,117.81 708.61,119.38 708.71,119.19 708.81,119.96 708.91,120.28 709.00,118.75 709.14,120.66 709.26,121.33 709.38,122.05 709.49,120.16 709.59,122.50 709.69,121.59 709.79,122.56 709.89,123.86 710.00,124.49 710.12,124.57 710.24,124.65 710.36,124.99 710.48,126.31 710.60,126.74 710.71,126.56 710.81,125.45 710.90,125.43 711.04,127.01 711.11,129.01 711.18,131.18 711.30,131.46 711.38,131.88 711.47,132.73 711.57,133.19 711.68,133.59 711.80,133.89 711.91,134.53 712.04,135.52 712.16,136.29 712.28,136.45 712.40,138.20 712.51,137.25 712.61,139.07 712.72,138.72 712.83,140.36 712.94,139.68 713.05,141.08 713.17,142.45 713.28,142.94 713.40,142.25 713.53,143.05 713.66,143.22 713.80,144.50 713.90,143.99 714.00,145.36 714.11,145.48 714.21,146.54 714.32,146.93 714.44,147.57 714.55,148.16 714.67,149.42 714.79,149.00 714.90,149.31 715.02,151.10 715.15,148.33 715.27,150.50 715.39,150.97 715.51,153.49 715.63,153.24 715.76,153.64 715.88,153.67 716.00,154.40 716.11,155.62 716.22,153.56 716.33,154.57 716.44,156.02 716.55,155.38 716.66,157.04 716.77,157.44 716.88,158.08 716.99,156.27 717.11,158.09 717.22,159.18 717.33,158.39 717.45,159.91 717.57,159.27 717.69,158.95 717.81,161.59 717.94,159.49 718.07,161.08 718.20,161.26 718.30,161.18 718.41,161.47 718.52,160.84 718.63,162.72 718.74,161.94 718.86,164.57 718.97,163.05 719.09,162.37 719.21,164.25 719.33,164.94 719.45,165.46 719.57,164.55 719.69,165.06 719.81,165.26 719.93,166.12 720.05,167.02 720.17,166.95 720.29,166.13 720.41,166.55 720.53,166.87 720.65,166.72 720.76,166.59 720.88,167.33 720.99,168.33 721.10,168.57 721.23,167.60 721.35,168.96 721.48,168.81 721.60,169.51 721.73,170.09 721.85,170.19 721.97,170.85 722.10,170.97 722.22,171.38 722.34,170.94 722.46,170.04 722.58,169.96 722.70,171.93 722.82,172.24 722.93,171.55 723.05,172.04 723.16,171.77 723.28,174.85 723.39,172.42 723.50,172.94 723.62,175.49 723.74,176.15 723.85,175.43 723.95,176.70 724.05,177.19 724.15,176.71 724.24,179.67 724.34,178.44 724.44,178.76 724.54,178.84 724.64,179.56 724.75,178.83 724.87,179.87 724.99,180.39 725.13,180.86 725.27,180.63 725.43,181.40 725.60,181.10 725.70,182.75 725.80,180.87 725.91,180.77 726.02,181.98 726.13,182.67 726.24,181.76 726.36,182.32 726.48,182.33 726.60,182.63 726.72,183.61 726.84,181.63 726.97,181.94 727.09,182.54 727.22,182.33 727.35,182.89 727.47,184.00 727.60,183.25 727.72,182.44 727.85,183.48 727.98,183.43 728.10,184.63 728.21,182.35 728.32,183.46 728.44,184.11 728.55,184.04 728.66,183.64 728.78,183.02 728.89,182.92 729.01,182.92 729.12,183.95 729.24,184.25 729.35,183.72 729.47,183.53 729.58,184.26 729.70,183.01 729.82,186.26 729.93,183.87 730.05,184.81 730.17,184.75 730.29,184.89 730.41,185.31 730.53,184.37 730.65,186.90 730.77,185.73 730.89,184.45 731.01,186.95 731.13,186.47 731.25,185.96 731.36,186.28 731.48,185.52 731.59,187.91 731.71,186.44 731.83,185.94 731.95,185.15 732.07,185.64 732.19,184.97 732.31,186.35 732.43,186.12 732.55,185.87 732.67,186.43 732.79,186.97 732.91,186.80 733.03,186.47 733.15,187.53 733.27,187.01 733.39,187.46 733.51,187.25 733.62,187.14 733.74,189.06 733.85,186.94 733.97,186.17 734.08,186.42 734.19,186.73 734.29,189.08 734.40,189.87 734.53,185.77 734.66,187.92 734.79,186.93 734.91,188.33 735.03,186.87 735.15,185.86 735.27,186.84 735.38,186.01 735.50,185.78 735.61,184.06 735.72,185.58 735.83,185.36 735.95,185.14 736.06,184.79 736.17,185.26 736.29,184.73 736.41,183.77 736.53,185.05 736.65,183.58 736.77,184.91 736.90,184.80 737.01,186.07 737.12,185.31 737.24,185.42 737.35,185.19 737.47,183.95 737.59,184.78 737.71,184.72 737.83,182.94 737.95,183.32 738.08,184.80 738.20,184.79 738.32,184.81 738.45,184.26 738.57,181.47 738.69,182.35 738.82,181.51 738.94,181.62 739.06,183.24 739.18,182.24 739.30,181.98 739.42,181.86 739.54,181.90 739.66,181.55 739.77,181.40 739.89,183.19 740.00,182.38 740.13,181.06 740.25,182.03 740.37,182.53 740.49,181.97 740.61,183.13 740.72,182.38 740.84,183.20 740.95,183.53 741.07,183.24 741.18,182.99 741.30,183.84 741.41,184.24 741.52,184.72 741.64,184.05 741.76,182.60 741.88,185.02 742.00,182.73 742.12,183.19 742.24,185.88 742.37,184.47 742.50,185.95 742.61,184.36 742.72,184.27 742.83,182.55 742.95,184.32 743.06,184.87 743.17,184.60 743.29,186.30 743.41,184.94 743.53,184.62 743.65,184.97 743.77,184.40 743.89,184.38 744.01,183.21 744.13,182.18 744.25,183.36 744.37,183.11 744.50,183.52 744.62,183.86 744.74,183.12 744.86,182.01 744.99,183.17 745.11,183.65 745.23,182.01 745.36,183.55 745.48,182.28 745.60,182.41 745.71,183.97 745.83,182.77 745.94,183.62 746.06,183.56 746.17,183.23 746.29,184.56 746.40,183.68 746.52,184.05 746.63,183.61 746.75,181.90 746.86,181.78 746.98,183.08 747.09,183.52 747.21,184.78 747.33,184.24 747.44,183.10 747.56,183.48 747.68,183.64 747.80,183.83 747.91,183.80 748.03,182.87 748.15,184.02 748.27,183.96 748.39,183.36 748.51,185.00 748.63,184.44 748.75,184.84 748.86,183.78 748.98,182.10 749.10,184.57 749.21,183.20 749.33,183.11 749.45,183.08 749.57,182.91 749.70,184.03 749.82,183.16 749.94,182.78 750.07,183.01 750.19,183.61 750.31,182.91 750.44,183.41 750.56,184.53 750.69,183.48 750.81,183.81 750.93,184.20 751.05,182.21 751.17,184.93 751.29,185.27 751.41,182.54 751.53,184.00 751.64,184.60 751.76,184.07 751.87,184.76 751.98,184.17 752.09,184.26 752.20,185.02 752.30,184.62 752.40,185.12 752.50,184.20 752.65,184.52 752.79,184.66 752.92,185.29 753.06,186.03 753.19,185.16 753.31,185.25 753.43,185.12 753.55,186.74 753.67,186.09 753.78,185.84 753.89,186.90 754.01,186.86 754.12,187.77 754.23,187.47 754.33,187.77 754.44,187.17 754.55,187.22 754.66,189.14 754.77,188.02 754.89,187.31 755.00,189.05 755.12,188.96 755.24,188.91 755.36,188.48 755.48,189.24 755.60,189.47 755.71,187.98 755.83,189.86 755.94,188.78 756.05,191.50 756.17,190.90 756.28,189.78 756.40,190.17 756.51,190.51 756.63,190.34 756.75,190.65 756.87,190.22 756.99,192.62 757.11,191.76 757.24,191.42 757.37,192.63 757.50,191.49 757.61,194.48 757.72,191.41 757.83,193.60 757.94,191.37 758.06,191.90 758.17,192.30 758.28,193.96 758.40,192.55 758.51,193.44 758.63,191.23 758.75,191.96 758.87,193.47 758.99,193.11 759.11,194.47 759.23,193.67 759.36,194.49 759.48,193.74 759.61,192.95 759.74,194.93 759.87,192.81 760.00,192.63 760.11,194.17 760.22,193.36 760.34,193.42 760.46,193.31 760.58,194.55 760.70,192.66 760.83,192.40 760.96,193.37 761.09,192.30 761.22,193.55 761.34,193.85 761.47,194.57 761.60,192.91 761.73,192.26 761.86,192.79 761.99,194.32 762.11,193.58 762.23,194.96 762.35,192.91 762.47,193.27 762.59,194.64 762.70,192.76 762.80,192.71 762.91,193.33 763.01,193.39 763.10,193.35 763.24,192.99 763.38,193.19 763.50,193.06 763.62,192.71 763.73,193.18 763.85,193.24 763.96,193.29 764.07,192.76 764.18,192.70 764.30,192.65" fill="none" stroke="#000" stroke-width="2.8" stroke-linejoin="round" stroke-linecap="round"/>
<line x1="549" y1="98.4" x2="549" y2="357.6" stroke="#000" stroke-width="3.75" stroke-dasharray="8.4 4.93" stroke-dashoffset="1.73" clip-path="url(#c)"/>
<rect x="98.4" y="98.4" width="691.2" height="259.20000000000005" fill="none" stroke="#000" stroke-width="1.25"/>
<line x1="124.0" y1="357.6" x2="740.4" y2="357.6" stroke="#000" stroke-width="1.25"/>
<line x1="124.00" y1="357.6" x2="124.00" y2="369.6" stroke="#000" stroke-width="1.25"/>
<text x="124.00" y="401" class="ax" text-anchor="middle">0</text>
<line x1="278.10" y1="357.6" x2="278.10" y2="369.6" stroke="#000" stroke-width="1.25"/>
<text x="278.10" y="401" class="ax" text-anchor="middle">5</text>
<line x1="432.20" y1="357.6" x2="432.20" y2="369.6" stroke="#000" stroke-width="1.25"/>
<text x="432.20" y="401" class="ax" text-anchor="middle">10</text>
<line x1="586.30" y1="357.6" x2="586.30" y2="369.6" stroke="#000" stroke-width="1.25"/>
<text x="586.30" y="401" class="ax" text-anchor="middle">15</text>
<line x1="740.40" y1="357.6" x2="740.40" y2="369.6" stroke="#000" stroke-width="1.25"/>
<text x="740.40" y="401" class="ax" text-anchor="middle">20</text>
<line x1="98.4" y1="322.5" x2="98.4" y2="111.00000000000003" stroke="#000" stroke-width="1.25"/>
<line x1="86.4" y1="322.50" x2="98.4" y2="322.50" stroke="#000" stroke-width="1.25"/>
<text x="0" y="0" class="ax" text-anchor="middle" transform="translate(69.8 322.50) rotate(-90)">4000</text>
<line x1="86.4" y1="287.25" x2="98.4" y2="287.25" stroke="#000" stroke-width="1.25"/>
<line x1="86.4" y1="252.00" x2="98.4" y2="252.00" stroke="#000" stroke-width="1.25"/>
<text x="0" y="0" class="ax" text-anchor="middle" transform="translate(69.8 252.00) rotate(-90)">5000</text>
<line x1="86.4" y1="216.75" x2="98.4" y2="216.75" stroke="#000" stroke-width="1.25"/>
<line x1="86.4" y1="181.50" x2="98.4" y2="181.50" stroke="#000" stroke-width="1.25"/>
<text x="0" y="0" class="ax" text-anchor="middle" transform="translate(69.8 181.50) rotate(-90)">6000</text>
<line x1="86.4" y1="146.25" x2="98.4" y2="146.25" stroke="#000" stroke-width="1.25"/>
<line x1="86.4" y1="111.00" x2="98.4" y2="111.00" stroke="#000" stroke-width="1.25"/>
<text x="0" y="0" class="ax" text-anchor="middle" transform="translate(69.8 111.00) rotate(-90)">7000</text>
<text x="444" y="44" class="tt" text-anchor="middle">raw (Run 1)</text>
<text x="444" y="72.8" class="tt" text-anchor="middle">[11334491 - 11355257 ms] | [index: 1 - 20767]</text>
<text x="444" y="448.6" class="ax" text-anchor="middle">time (secs)</text>
<text x="0" y="0" class="ax" text-anchor="middle" transform="translate(21.6 228) rotate(-90)">pupil size (a.u.)</text>
</svg>
</body></html>
